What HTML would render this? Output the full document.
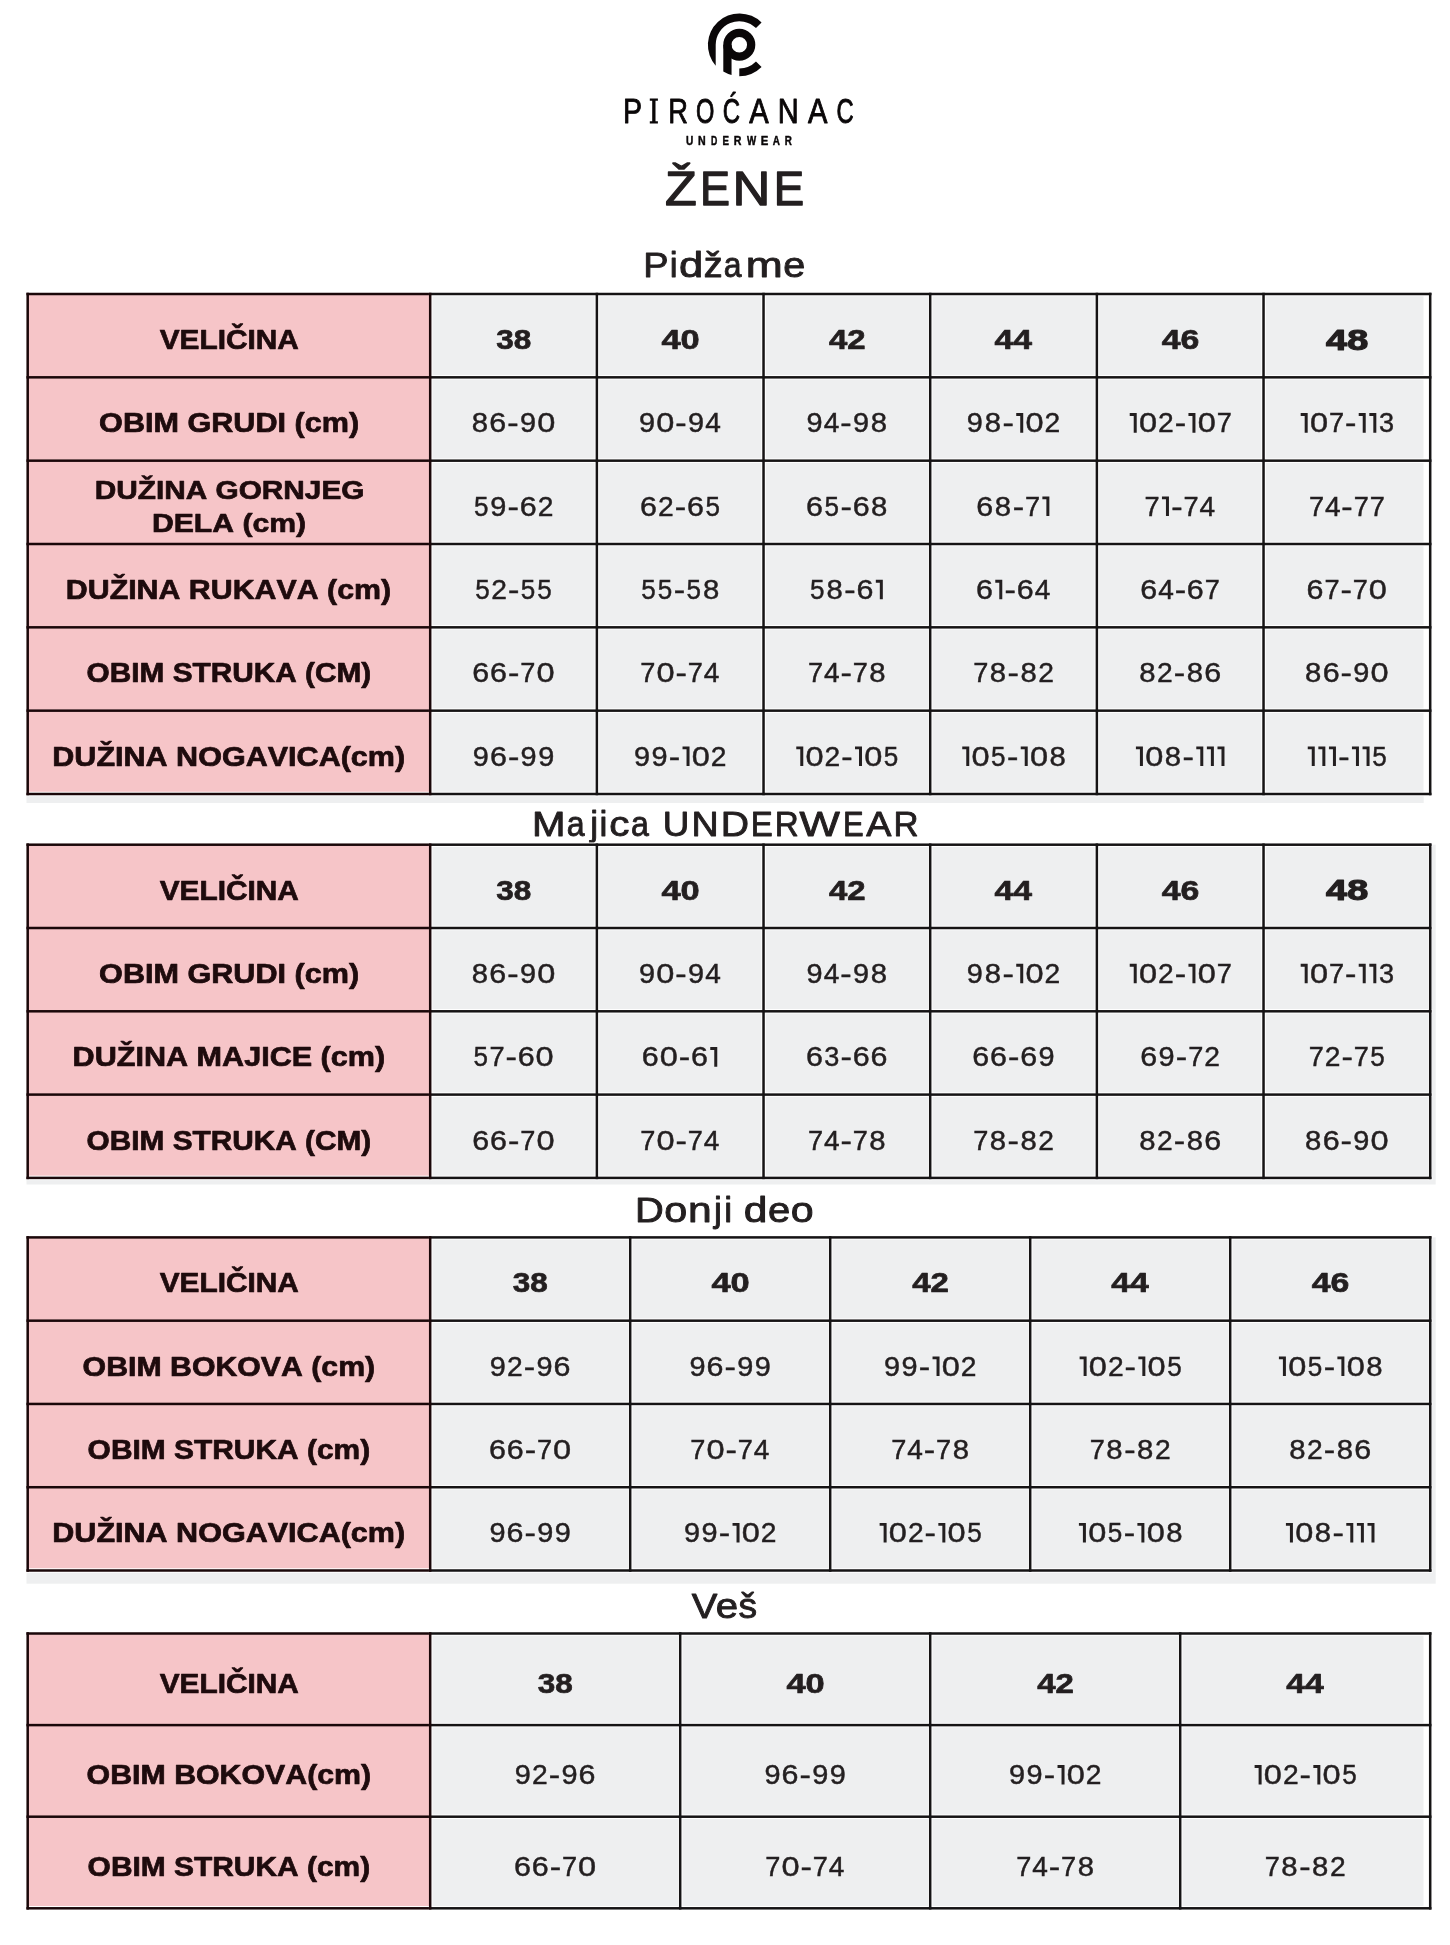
<!DOCTYPE html>
<html><head><meta charset="utf-8"><title>Piroćanac - Žene tabela veličina</title>
<style>
html,body{margin:0;padding:0;background:#fff;width:1450px;height:1945px;overflow:hidden}
svg{will-change:transform} svg text{font-family:"Liberation Sans",sans-serif;font-kerning:none}
</style></head><body>
<svg width="1450" height="1945" viewBox="0 0 1450 1945" style="display:block">
<rect width="1450" height="1945" fill="#ffffff"/>
<path d="M761.57 22.53 A31.5 31.5 0 0 0 715.7 65.66 L715.7 44.8 A23.6 23.6 0 0 1 755.99 28.11 Z M739.3 68.4 L739.3 76.3 A31.5 31.5 0 0 0 761.57 67.07 L755.99 61.49 A23.6 23.6 0 0 1 739.3 68.4 Z M723.3 44.8 L723.3 71.59 A31.2 31.2 0 0 0 731.55 75.02 L731.55 44.8 Z" fill="#0a0708"/>
<circle cx="739.3" cy="44.8" r="11.88" fill="none" stroke="#0a0708" stroke-width="8.25"/>
<text x="623.01" y="123.05" font-size="35.03" font-weight="normal" fill="#0a0708" stroke="#0a0708" stroke-width="0.9" stroke-linejoin="round" textLength="19.05" lengthAdjust="spacingAndGlyphs">P</text>
<path d="M649.8 98.5H657.9V100.8H655.5V121.2H657.9V123.5H649.8V121.2H652.2V100.8H649.8Z" fill="#0a0708"/>
<text x="668.31" y="123.05" font-size="35.03" font-weight="normal" fill="#0a0708" stroke="#0a0708" stroke-width="0.9" stroke-linejoin="round" textLength="19.7" lengthAdjust="spacingAndGlyphs">R</text>
<text x="695.93" y="123.05" font-size="35.03" font-weight="normal" fill="#0a0708" stroke="#0a0708" stroke-width="0.9" stroke-linejoin="round" textLength="18.35" lengthAdjust="spacingAndGlyphs">O</text>
<text x="722.73" y="123.05" font-size="35.03" font-weight="normal" fill="#0a0708" stroke="#0a0708" stroke-width="0.9" stroke-linejoin="round" textLength="17.33" lengthAdjust="spacingAndGlyphs">Ć</text>
<text x="749.29" y="123.05" font-size="35.03" font-weight="normal" fill="#0a0708" stroke="#0a0708" stroke-width="0.9" stroke-linejoin="round" textLength="19.41" lengthAdjust="spacingAndGlyphs">A</text>
<text x="777.87" y="123.05" font-size="35.03" font-weight="normal" fill="#0a0708" stroke="#0a0708" stroke-width="0.9" stroke-linejoin="round" textLength="20.94" lengthAdjust="spacingAndGlyphs">N</text>
<text x="807.99" y="123.05" font-size="35.03" font-weight="normal" fill="#0a0708" stroke="#0a0708" stroke-width="0.9" stroke-linejoin="round" textLength="19.41" lengthAdjust="spacingAndGlyphs">A</text>
<text x="836.44" y="123.05" font-size="35.03" font-weight="normal" fill="#0a0708" stroke="#0a0708" stroke-width="0.9" stroke-linejoin="round" textLength="17.22" lengthAdjust="spacingAndGlyphs">C</text>
<text x="685.92" y="144.68" font-size="12.14" font-weight="bold" fill="#0a0708" stroke="#0a0708" stroke-width="0.45" stroke-linejoin="round" textLength="7.27" lengthAdjust="spacingAndGlyphs">U</text>
<text x="697.91" y="144.68" font-size="12.14" font-weight="bold" fill="#0a0708" stroke="#0a0708" stroke-width="0.45" stroke-linejoin="round" textLength="7.68" lengthAdjust="spacingAndGlyphs">N</text>
<text x="711.04" y="144.68" font-size="12.14" font-weight="bold" fill="#0a0708" stroke="#0a0708" stroke-width="0.45" stroke-linejoin="round" textLength="6.3" lengthAdjust="spacingAndGlyphs">D</text>
<text x="722.58" y="144.68" font-size="12.14" font-weight="bold" fill="#0a0708" stroke="#0a0708" stroke-width="0.45" stroke-linejoin="round" textLength="6.48" lengthAdjust="spacingAndGlyphs">E</text>
<text x="733.71" y="144.68" font-size="12.14" font-weight="bold" fill="#0a0708" stroke="#0a0708" stroke-width="0.45" stroke-linejoin="round" textLength="7.68" lengthAdjust="spacingAndGlyphs">R</text>
<text x="746.92" y="144.68" font-size="12.14" font-weight="bold" fill="#0a0708" stroke="#0a0708" stroke-width="0.45" stroke-linejoin="round" textLength="9.17" lengthAdjust="spacingAndGlyphs">W</text>
<text x="760.87" y="144.68" font-size="12.14" font-weight="bold" fill="#0a0708" stroke="#0a0708" stroke-width="0.45" stroke-linejoin="round" textLength="7.55" lengthAdjust="spacingAndGlyphs">E</text>
<text x="772.68" y="144.68" font-size="12.14" font-weight="bold" fill="#0a0708" stroke="#0a0708" stroke-width="0.45" stroke-linejoin="round" textLength="7.16" lengthAdjust="spacingAndGlyphs">A</text>
<text x="784.77" y="144.68" font-size="12.14" font-weight="bold" fill="#0a0708" stroke="#0a0708" stroke-width="0.45" stroke-linejoin="round" textLength="7.11" lengthAdjust="spacingAndGlyphs">R</text>
<text x="665" y="205.05" font-size="48.55" font-weight="normal" fill="#231f20" stroke="#231f20" stroke-width="1.3" stroke-linejoin="round" textLength="31.78" lengthAdjust="spacingAndGlyphs">Ž</text>
<text x="699.96" y="205.05" font-size="48.55" font-weight="normal" fill="#231f20" stroke="#231f20" stroke-width="1.3" stroke-linejoin="round" textLength="30.03" lengthAdjust="spacingAndGlyphs">E</text>
<text x="732.45" y="205.05" font-size="48.55" font-weight="normal" fill="#231f20" stroke="#231f20" stroke-width="1.3" stroke-linejoin="round" textLength="37.88" lengthAdjust="spacingAndGlyphs">N</text>
<text x="773.81" y="205.05" font-size="48.55" font-weight="normal" fill="#231f20" stroke="#231f20" stroke-width="1.3" stroke-linejoin="round" textLength="30.4" lengthAdjust="spacingAndGlyphs">E</text>
<text x="643.24" y="276.95" font-size="35.47" font-weight="normal" fill="#231f20" stroke="#231f20" stroke-width="0.9" stroke-linejoin="round" textLength="25.31" lengthAdjust="spacingAndGlyphs">P</text>
<text x="669.72" y="276.95" font-size="35.47" font-weight="normal" fill="#231f20" stroke="#231f20" stroke-width="0.9" stroke-linejoin="round" textLength="7.88" lengthAdjust="spacingAndGlyphs">i</text>
<text x="678.92" y="276.95" font-size="35.47" font-weight="normal" fill="#231f20" stroke="#231f20" stroke-width="0.9" stroke-linejoin="round" textLength="24.24" lengthAdjust="spacingAndGlyphs">d</text>
<text x="703.82" y="276.95" font-size="35.47" font-weight="normal" fill="#231f20" stroke="#231f20" stroke-width="0.9" stroke-linejoin="round" textLength="18.92" lengthAdjust="spacingAndGlyphs">ž</text>
<text x="723.79" y="276.95" font-size="35.47" font-weight="normal" fill="#231f20" stroke="#231f20" stroke-width="0.9" stroke-linejoin="round" textLength="17.76" lengthAdjust="spacingAndGlyphs">a</text>
<text x="745.7" y="276.95" font-size="35.47" font-weight="normal" fill="#231f20" stroke="#231f20" stroke-width="0.9" stroke-linejoin="round" textLength="36.97" lengthAdjust="spacingAndGlyphs">m</text>
<text x="783.37" y="276.95" font-size="35.47" font-weight="normal" fill="#231f20" stroke="#231f20" stroke-width="0.9" stroke-linejoin="round" textLength="22.05" lengthAdjust="spacingAndGlyphs">e</text>
<text x="531.95" y="835.95" font-size="35.47" font-weight="normal" fill="#231f20" stroke="#231f20" stroke-width="0.9" stroke-linejoin="round" textLength="33.5" lengthAdjust="spacingAndGlyphs">M</text>
<text x="566.69" y="835.95" font-size="35.47" font-weight="normal" fill="#231f20" stroke="#231f20" stroke-width="0.9" stroke-linejoin="round" textLength="17.86" lengthAdjust="spacingAndGlyphs">a</text>
<text x="590.16" y="835.95" font-size="35.47" font-weight="normal" fill="#231f20" stroke="#231f20" stroke-width="0.9" stroke-linejoin="round" textLength="7.88" lengthAdjust="spacingAndGlyphs">j</text>
<text x="599.62" y="835.95" font-size="35.47" font-weight="normal" fill="#231f20" stroke="#231f20" stroke-width="0.9" stroke-linejoin="round" textLength="7.88" lengthAdjust="spacingAndGlyphs">i</text>
<text x="609.34" y="835.95" font-size="35.47" font-weight="normal" fill="#231f20" stroke="#231f20" stroke-width="0.9" stroke-linejoin="round" textLength="20.18" lengthAdjust="spacingAndGlyphs">c</text>
<text x="630.89" y="835.95" font-size="35.47" font-weight="normal" fill="#231f20" stroke="#231f20" stroke-width="0.9" stroke-linejoin="round" textLength="17.86" lengthAdjust="spacingAndGlyphs">a</text>
<text x="662.71" y="835.95" font-size="35.47" font-weight="normal" fill="#231f20" stroke="#231f20" stroke-width="0.9" stroke-linejoin="round" textLength="26.58" lengthAdjust="spacingAndGlyphs">U</text>
<text x="691.47" y="835.95" font-size="35.47" font-weight="normal" fill="#231f20" stroke="#231f20" stroke-width="0.9" stroke-linejoin="round" textLength="27.15" lengthAdjust="spacingAndGlyphs">N</text>
<text x="720.84" y="835.95" font-size="35.47" font-weight="normal" fill="#231f20" stroke="#231f20" stroke-width="0.9" stroke-linejoin="round" textLength="28.29" lengthAdjust="spacingAndGlyphs">D</text>
<text x="750.74" y="835.95" font-size="35.47" font-weight="normal" fill="#231f20" stroke="#231f20" stroke-width="0.9" stroke-linejoin="round" textLength="22.03" lengthAdjust="spacingAndGlyphs">E</text>
<text x="774.73" y="835.95" font-size="35.47" font-weight="normal" fill="#231f20" stroke="#231f20" stroke-width="0.9" stroke-linejoin="round" textLength="23.96" lengthAdjust="spacingAndGlyphs">R</text>
<text x="799.46" y="835.95" font-size="35.47" font-weight="normal" fill="#231f20" stroke="#231f20" stroke-width="0.9" stroke-linejoin="round" textLength="40.33" lengthAdjust="spacingAndGlyphs">W</text>
<text x="842.91" y="835.95" font-size="35.47" font-weight="normal" fill="#231f20" stroke="#231f20" stroke-width="0.9" stroke-linejoin="round" textLength="20.67" lengthAdjust="spacingAndGlyphs">E</text>
<text x="866.38" y="835.95" font-size="35.47" font-weight="normal" fill="#231f20" stroke="#231f20" stroke-width="0.9" stroke-linejoin="round" textLength="25.15" lengthAdjust="spacingAndGlyphs">A</text>
<text x="893.4" y="835.95" font-size="35.47" font-weight="normal" fill="#231f20" stroke="#231f20" stroke-width="0.9" stroke-linejoin="round" textLength="25.06" lengthAdjust="spacingAndGlyphs">R</text>
<text x="635.08" y="1221.85" font-size="35.47" font-weight="normal" fill="#231f20" stroke="#231f20" stroke-width="0.9" stroke-linejoin="round" textLength="28.78" lengthAdjust="spacingAndGlyphs">D</text>
<text x="664.22" y="1221.85" font-size="35.47" font-weight="normal" fill="#231f20" stroke="#231f20" stroke-width="0.9" stroke-linejoin="round" textLength="22.97" lengthAdjust="spacingAndGlyphs">o</text>
<text x="687.92" y="1221.85" font-size="35.47" font-weight="normal" fill="#231f20" stroke="#231f20" stroke-width="0.9" stroke-linejoin="round" textLength="23.7" lengthAdjust="spacingAndGlyphs">n</text>
<text x="714.06" y="1221.85" font-size="35.47" font-weight="normal" fill="#231f20" stroke="#231f20" stroke-width="0.9" stroke-linejoin="round" textLength="7.88" lengthAdjust="spacingAndGlyphs">j</text>
<text x="724.37" y="1221.85" font-size="35.47" font-weight="normal" fill="#231f20" stroke="#231f20" stroke-width="0.9" stroke-linejoin="round" textLength="7.88" lengthAdjust="spacingAndGlyphs">i</text>
<text x="743.87" y="1221.85" font-size="35.47" font-weight="normal" fill="#231f20" stroke="#231f20" stroke-width="0.9" stroke-linejoin="round" textLength="23.62" lengthAdjust="spacingAndGlyphs">d</text>
<text x="768.05" y="1221.85" font-size="35.47" font-weight="normal" fill="#231f20" stroke="#231f20" stroke-width="0.9" stroke-linejoin="round" textLength="22.28" lengthAdjust="spacingAndGlyphs">e</text>
<text x="790.82" y="1221.85" font-size="35.47" font-weight="normal" fill="#231f20" stroke="#231f20" stroke-width="0.9" stroke-linejoin="round" textLength="22.85" lengthAdjust="spacingAndGlyphs">o</text>
<text x="691.88" y="1617.85" font-size="35.47" font-weight="normal" fill="#231f20" stroke="#231f20" stroke-width="0.9" stroke-linejoin="round" textLength="25.64" lengthAdjust="spacingAndGlyphs">V</text>
<text x="715.74" y="1617.85" font-size="35.47" font-weight="normal" fill="#231f20" stroke="#231f20" stroke-width="0.9" stroke-linejoin="round" textLength="22.4" lengthAdjust="spacingAndGlyphs">e</text>
<text x="738.42" y="1617.85" font-size="35.47" font-weight="normal" fill="#231f20" stroke="#231f20" stroke-width="0.9" stroke-linejoin="round" textLength="18.58" lengthAdjust="spacingAndGlyphs">š</text>
<rect x="26.5" y="294" width="1397.2" height="509" fill="#eeeff0"/>
<rect x="1423.7" y="294" width="6.5" height="500" fill="#fff"/>
<rect x="27.7" y="294" width="402.5" height="500" fill="#f6c5c8"/>
<text x="159.65" y="349.02" font-size="27.33" font-weight="bold" fill="#1e0b0d" stroke="#1e0b0d" stroke-width="0.7" stroke-linejoin="round" textLength="139.29" lengthAdjust="spacingAndGlyphs">VELIČINA</text>
<text x="496.16" y="349.02" font-size="27.47" font-weight="bold" fill="#231f20" stroke="#231f20" stroke-width="0.7" stroke-linejoin="round" textLength="34.99" lengthAdjust="spacingAndGlyphs">38</text>
<text x="661.53" y="349.02" font-size="27.47" font-weight="bold" fill="#231f20" stroke="#231f20" stroke-width="0.7" stroke-linejoin="round" textLength="38.23" lengthAdjust="spacingAndGlyphs">40</text>
<text x="828.97" y="349.02" font-size="27.47" font-weight="bold" fill="#231f20" stroke="#231f20" stroke-width="0.7" stroke-linejoin="round" textLength="36.62" lengthAdjust="spacingAndGlyphs">42</text>
<text x="994.62" y="349.02" font-size="27.47" font-weight="bold" fill="#231f20" stroke="#231f20" stroke-width="0.7" stroke-linejoin="round" textLength="37.49" lengthAdjust="spacingAndGlyphs">44</text>
<text x="1161.79" y="349.02" font-size="27.47" font-weight="bold" fill="#231f20" stroke="#231f20" stroke-width="0.7" stroke-linejoin="round" textLength="37.53" lengthAdjust="spacingAndGlyphs">46</text>
<text x="1326.14" y="349.57" font-size="29.65" font-weight="bold" fill="#231f20" stroke="#231f20" stroke-width="1.2" stroke-linejoin="round" textLength="42.03" lengthAdjust="spacingAndGlyphs">48</text>
<text x="99.1" y="432.35" font-size="27.33" font-weight="bold" fill="#1e0b0d" stroke="#1e0b0d" stroke-width="0.7" stroke-linejoin="round" textLength="260.08" lengthAdjust="spacingAndGlyphs">OBIM GRUDI (cm)</text>
<text x="471.72" y="432.47" font-size="27.83" fill="#231f20" stroke="#231f20" stroke-width="0.45" textLength="16.3" lengthAdjust="spacingAndGlyphs">8</text>
<text x="489.34" y="432.47" font-size="27.83" fill="#231f20" stroke="#231f20" stroke-width="0.45" textLength="16.93" lengthAdjust="spacingAndGlyphs">6</text>
<text x="507.3" y="432.47" font-size="27.83" fill="#231f20" stroke="#231f20" stroke-width="0.45" textLength="11.39" lengthAdjust="spacingAndGlyphs">-</text>
<text x="519.96" y="432.47" font-size="27.83" fill="#231f20" stroke="#231f20" stroke-width="0.45" textLength="16.07" lengthAdjust="spacingAndGlyphs">9</text>
<text x="537.25" y="432.47" font-size="27.83" fill="#231f20" stroke="#231f20" stroke-width="0.45" textLength="18.09" lengthAdjust="spacingAndGlyphs">0</text>
<text x="638.97" y="432.47" font-size="27.83" fill="#231f20" stroke="#231f20" stroke-width="0.45" textLength="16.07" lengthAdjust="spacingAndGlyphs">9</text>
<text x="656.27" y="432.47" font-size="27.83" fill="#231f20" stroke="#231f20" stroke-width="0.45" textLength="18.09" lengthAdjust="spacingAndGlyphs">0</text>
<text x="675.33" y="432.47" font-size="27.83" fill="#231f20" stroke="#231f20" stroke-width="0.45" textLength="11.39" lengthAdjust="spacingAndGlyphs">-</text>
<text x="687.99" y="432.47" font-size="27.83" fill="#231f20" stroke="#231f20" stroke-width="0.45" textLength="16.07" lengthAdjust="spacingAndGlyphs">9</text>
<text x="705.28" y="432.47" font-size="27.83" fill="#231f20" stroke="#231f20" stroke-width="0.45" textLength="15.62" lengthAdjust="spacingAndGlyphs">4</text>
<text x="806.58" y="432.47" font-size="27.83" fill="#231f20" stroke="#231f20" stroke-width="0.45" textLength="16.07" lengthAdjust="spacingAndGlyphs">9</text>
<text x="823.87" y="432.47" font-size="27.83" fill="#231f20" stroke="#231f20" stroke-width="0.45" textLength="15.62" lengthAdjust="spacingAndGlyphs">4</text>
<text x="840.27" y="432.47" font-size="27.83" fill="#231f20" stroke="#231f20" stroke-width="0.45" textLength="11.39" lengthAdjust="spacingAndGlyphs">-</text>
<text x="852.93" y="432.47" font-size="27.83" fill="#231f20" stroke="#231f20" stroke-width="0.45" textLength="16.07" lengthAdjust="spacingAndGlyphs">9</text>
<text x="870.77" y="432.47" font-size="27.83" fill="#231f20" stroke="#231f20" stroke-width="0.45" textLength="16.3" lengthAdjust="spacingAndGlyphs">8</text>
<text x="966.88" y="432.47" font-size="27.83" fill="#231f20" stroke="#231f20" stroke-width="0.45" textLength="16.07" lengthAdjust="spacingAndGlyphs">9</text>
<text x="984.72" y="432.47" font-size="27.83" fill="#231f20" stroke="#231f20" stroke-width="0.45" textLength="16.3" lengthAdjust="spacingAndGlyphs">8</text>
<text x="1002.54" y="432.47" font-size="27.83" fill="#231f20" stroke="#231f20" stroke-width="0.45" textLength="11.39" lengthAdjust="spacingAndGlyphs">-</text>
<path d="M1016.23 413.1H1023.23V432.7H1020.23V416H1016.23Z" fill="#231f20"/>
<text x="1025.5" y="432.47" font-size="27.83" fill="#231f20" stroke="#231f20" stroke-width="0.45" textLength="18.09" lengthAdjust="spacingAndGlyphs">0</text>
<text x="1044.57" y="432.47" font-size="27.83" fill="#231f20" stroke="#231f20" stroke-width="0.45" textLength="15.69" lengthAdjust="spacingAndGlyphs">2</text>
<path d="M1129.72 413.1H1136.72V432.7H1133.72V416H1129.72Z" fill="#231f20"/>
<text x="1138.99" y="432.47" font-size="27.83" fill="#231f20" stroke="#231f20" stroke-width="0.45" textLength="18.09" lengthAdjust="spacingAndGlyphs">0</text>
<text x="1158.05" y="432.47" font-size="27.83" fill="#231f20" stroke="#231f20" stroke-width="0.45" textLength="15.69" lengthAdjust="spacingAndGlyphs">2</text>
<text x="1174.75" y="432.47" font-size="27.83" fill="#231f20" stroke="#231f20" stroke-width="0.45" textLength="11.39" lengthAdjust="spacingAndGlyphs">-</text>
<path d="M1188.45 413.1H1195.45V432.7H1192.45V416H1188.45Z" fill="#231f20"/>
<text x="1197.72" y="432.47" font-size="27.83" fill="#231f20" stroke="#231f20" stroke-width="0.45" textLength="18.09" lengthAdjust="spacingAndGlyphs">0</text>
<text x="1216.71" y="432.47" font-size="27.83" fill="#231f20" stroke="#231f20" stroke-width="0.45" textLength="15.11" lengthAdjust="spacingAndGlyphs">7</text>
<path d="M1300.68 413.1H1307.68V432.7H1304.68V416H1300.68Z" fill="#231f20"/>
<text x="1309.95" y="432.47" font-size="27.83" fill="#231f20" stroke="#231f20" stroke-width="0.45" textLength="18.09" lengthAdjust="spacingAndGlyphs">0</text>
<text x="1328.95" y="432.47" font-size="27.83" fill="#231f20" stroke="#231f20" stroke-width="0.45" textLength="15.11" lengthAdjust="spacingAndGlyphs">7</text>
<text x="1345.03" y="432.47" font-size="27.83" fill="#231f20" stroke="#231f20" stroke-width="0.45" textLength="11.39" lengthAdjust="spacingAndGlyphs">-</text>
<path d="M1358.72 413.1H1365.72V432.7H1362.72V416H1358.72Z" fill="#231f20"/>
<path d="M1369.32 413.1H1376.32V432.7H1373.32V416H1369.32Z" fill="#231f20"/>
<text x="1378.94" y="432.47" font-size="27.83" fill="#231f20" stroke="#231f20" stroke-width="0.45" textLength="15.07" lengthAdjust="spacingAndGlyphs">3</text>
<text x="94.66" y="498.88" font-size="26.6" font-weight="bold" fill="#1e0b0d" stroke="#1e0b0d" stroke-width="0.7" stroke-linejoin="round" textLength="269.84" lengthAdjust="spacingAndGlyphs">DUŽINA GORNJEG</text>
<text x="151.93" y="531.78" font-size="26.6" font-weight="bold" fill="#1e0b0d" stroke="#1e0b0d" stroke-width="0.7" stroke-linejoin="round" textLength="154.22" lengthAdjust="spacingAndGlyphs">DELA (cm)</text>
<text x="474.03" y="515.81" font-size="27.83" fill="#231f20" stroke="#231f20" stroke-width="0.45" textLength="14.49" lengthAdjust="spacingAndGlyphs">5</text>
<text x="490.24" y="515.81" font-size="27.83" fill="#231f20" stroke="#231f20" stroke-width="0.45" textLength="16.07" lengthAdjust="spacingAndGlyphs">9</text>
<text x="507.57" y="515.81" font-size="27.83" fill="#231f20" stroke="#231f20" stroke-width="0.45" textLength="11.39" lengthAdjust="spacingAndGlyphs">-</text>
<text x="519.77" y="515.81" font-size="27.83" fill="#231f20" stroke="#231f20" stroke-width="0.45" textLength="16.93" lengthAdjust="spacingAndGlyphs">6</text>
<text x="537.73" y="515.81" font-size="27.83" fill="#231f20" stroke="#231f20" stroke-width="0.45" textLength="15.69" lengthAdjust="spacingAndGlyphs">2</text>
<text x="640.07" y="515.81" font-size="27.83" fill="#231f20" stroke="#231f20" stroke-width="0.45" textLength="16.93" lengthAdjust="spacingAndGlyphs">6</text>
<text x="658.03" y="515.81" font-size="27.83" fill="#231f20" stroke="#231f20" stroke-width="0.45" textLength="15.69" lengthAdjust="spacingAndGlyphs">2</text>
<text x="674.73" y="515.81" font-size="27.83" fill="#231f20" stroke="#231f20" stroke-width="0.45" textLength="11.39" lengthAdjust="spacingAndGlyphs">-</text>
<text x="686.93" y="515.81" font-size="27.83" fill="#231f20" stroke="#231f20" stroke-width="0.45" textLength="16.93" lengthAdjust="spacingAndGlyphs">6</text>
<text x="705.39" y="515.81" font-size="27.83" fill="#231f20" stroke="#231f20" stroke-width="0.45" textLength="14.49" lengthAdjust="spacingAndGlyphs">5</text>
<text x="806.04" y="515.81" font-size="27.83" fill="#231f20" stroke="#231f20" stroke-width="0.45" textLength="16.93" lengthAdjust="spacingAndGlyphs">6</text>
<text x="824.5" y="515.81" font-size="27.83" fill="#231f20" stroke="#231f20" stroke-width="0.45" textLength="14.49" lengthAdjust="spacingAndGlyphs">5</text>
<text x="840.45" y="515.81" font-size="27.83" fill="#231f20" stroke="#231f20" stroke-width="0.45" textLength="11.39" lengthAdjust="spacingAndGlyphs">-</text>
<text x="852.65" y="515.81" font-size="27.83" fill="#231f20" stroke="#231f20" stroke-width="0.45" textLength="16.93" lengthAdjust="spacingAndGlyphs">6</text>
<text x="871.12" y="515.81" font-size="27.83" fill="#231f20" stroke="#231f20" stroke-width="0.45" textLength="16.3" lengthAdjust="spacingAndGlyphs">8</text>
<text x="976.38" y="515.81" font-size="27.83" fill="#231f20" stroke="#231f20" stroke-width="0.45" textLength="16.93" lengthAdjust="spacingAndGlyphs">6</text>
<text x="994.84" y="515.81" font-size="27.83" fill="#231f20" stroke="#231f20" stroke-width="0.45" textLength="16.3" lengthAdjust="spacingAndGlyphs">8</text>
<text x="1012.66" y="515.81" font-size="27.83" fill="#231f20" stroke="#231f20" stroke-width="0.45" textLength="11.39" lengthAdjust="spacingAndGlyphs">-</text>
<text x="1025" y="515.81" font-size="27.83" fill="#231f20" stroke="#231f20" stroke-width="0.45" textLength="15.11" lengthAdjust="spacingAndGlyphs">7</text>
<path d="M1042.37 496.43H1049.37V516.03H1046.37V499.33H1042.37Z" fill="#231f20"/>
<text x="1144.58" y="515.81" font-size="27.83" fill="#231f20" stroke="#231f20" stroke-width="0.45" textLength="15.11" lengthAdjust="spacingAndGlyphs">7</text>
<path d="M1161.96 496.43H1168.96V516.03H1165.96V499.33H1161.96Z" fill="#231f20"/>
<text x="1171.26" y="515.81" font-size="27.83" fill="#231f20" stroke="#231f20" stroke-width="0.45" textLength="11.39" lengthAdjust="spacingAndGlyphs">-</text>
<text x="1183.59" y="515.81" font-size="27.83" fill="#231f20" stroke="#231f20" stroke-width="0.45" textLength="15.11" lengthAdjust="spacingAndGlyphs">7</text>
<text x="1199.63" y="515.81" font-size="27.83" fill="#231f20" stroke="#231f20" stroke-width="0.45" textLength="15.62" lengthAdjust="spacingAndGlyphs">4</text>
<text x="1308.91" y="515.81" font-size="27.83" fill="#231f20" stroke="#231f20" stroke-width="0.45" textLength="15.11" lengthAdjust="spacingAndGlyphs">7</text>
<text x="1324.94" y="515.81" font-size="27.83" fill="#231f20" stroke="#231f20" stroke-width="0.45" textLength="15.62" lengthAdjust="spacingAndGlyphs">4</text>
<text x="1341.35" y="515.81" font-size="27.83" fill="#231f20" stroke="#231f20" stroke-width="0.45" textLength="11.39" lengthAdjust="spacingAndGlyphs">-</text>
<text x="1353.68" y="515.81" font-size="27.83" fill="#231f20" stroke="#231f20" stroke-width="0.45" textLength="15.11" lengthAdjust="spacingAndGlyphs">7</text>
<text x="1369.69" y="515.81" font-size="27.83" fill="#231f20" stroke="#231f20" stroke-width="0.45" textLength="15.11" lengthAdjust="spacingAndGlyphs">7</text>
<text x="65.82" y="599.02" font-size="27.33" font-weight="bold" fill="#1e0b0d" stroke="#1e0b0d" stroke-width="0.7" stroke-linejoin="round" textLength="325.34" lengthAdjust="spacingAndGlyphs">DUŽINA RUKAVA (cm)</text>
<text x="475.32" y="599.14" font-size="27.83" fill="#231f20" stroke="#231f20" stroke-width="0.45" textLength="14.49" lengthAdjust="spacingAndGlyphs">5</text>
<text x="491.26" y="599.14" font-size="27.83" fill="#231f20" stroke="#231f20" stroke-width="0.45" textLength="15.69" lengthAdjust="spacingAndGlyphs">2</text>
<text x="507.96" y="599.14" font-size="27.83" fill="#231f20" stroke="#231f20" stroke-width="0.45" textLength="11.39" lengthAdjust="spacingAndGlyphs">-</text>
<text x="520.87" y="599.14" font-size="27.83" fill="#231f20" stroke="#231f20" stroke-width="0.45" textLength="14.49" lengthAdjust="spacingAndGlyphs">5</text>
<text x="537.32" y="599.14" font-size="27.83" fill="#231f20" stroke="#231f20" stroke-width="0.45" textLength="14.49" lengthAdjust="spacingAndGlyphs">5</text>
<text x="641.29" y="599.14" font-size="27.83" fill="#231f20" stroke="#231f20" stroke-width="0.45" textLength="14.49" lengthAdjust="spacingAndGlyphs">5</text>
<text x="657.74" y="599.14" font-size="27.83" fill="#231f20" stroke="#231f20" stroke-width="0.45" textLength="14.49" lengthAdjust="spacingAndGlyphs">5</text>
<text x="673.69" y="599.14" font-size="27.83" fill="#231f20" stroke="#231f20" stroke-width="0.45" textLength="11.39" lengthAdjust="spacingAndGlyphs">-</text>
<text x="686.59" y="599.14" font-size="27.83" fill="#231f20" stroke="#231f20" stroke-width="0.45" textLength="14.49" lengthAdjust="spacingAndGlyphs">5</text>
<text x="703.05" y="599.14" font-size="27.83" fill="#231f20" stroke="#231f20" stroke-width="0.45" textLength="16.3" lengthAdjust="spacingAndGlyphs">8</text>
<text x="810.09" y="599.14" font-size="27.83" fill="#231f20" stroke="#231f20" stroke-width="0.45" textLength="14.49" lengthAdjust="spacingAndGlyphs">5</text>
<text x="826.55" y="599.14" font-size="27.83" fill="#231f20" stroke="#231f20" stroke-width="0.45" textLength="16.3" lengthAdjust="spacingAndGlyphs">8</text>
<text x="844.37" y="599.14" font-size="27.83" fill="#231f20" stroke="#231f20" stroke-width="0.45" textLength="11.39" lengthAdjust="spacingAndGlyphs">-</text>
<text x="856.57" y="599.14" font-size="27.83" fill="#231f20" stroke="#231f20" stroke-width="0.45" textLength="16.93" lengthAdjust="spacingAndGlyphs">6</text>
<path d="M875.82 579.77H882.82V599.37H879.82V582.67H875.82Z" fill="#231f20"/>
<text x="976.03" y="599.14" font-size="27.83" fill="#231f20" stroke="#231f20" stroke-width="0.45" textLength="16.93" lengthAdjust="spacingAndGlyphs">6</text>
<path d="M995.28 579.77H1002.28V599.37H999.28V582.67H995.28Z" fill="#231f20"/>
<text x="1004.58" y="599.14" font-size="27.83" fill="#231f20" stroke="#231f20" stroke-width="0.45" textLength="11.39" lengthAdjust="spacingAndGlyphs">-</text>
<text x="1016.79" y="599.14" font-size="27.83" fill="#231f20" stroke="#231f20" stroke-width="0.45" textLength="16.93" lengthAdjust="spacingAndGlyphs">6</text>
<text x="1034.7" y="599.14" font-size="27.83" fill="#231f20" stroke="#231f20" stroke-width="0.45" textLength="15.62" lengthAdjust="spacingAndGlyphs">4</text>
<text x="1140.35" y="599.14" font-size="27.83" fill="#231f20" stroke="#231f20" stroke-width="0.45" textLength="16.93" lengthAdjust="spacingAndGlyphs">6</text>
<text x="1158.26" y="599.14" font-size="27.83" fill="#231f20" stroke="#231f20" stroke-width="0.45" textLength="15.62" lengthAdjust="spacingAndGlyphs">4</text>
<text x="1174.67" y="599.14" font-size="27.83" fill="#231f20" stroke="#231f20" stroke-width="0.45" textLength="11.39" lengthAdjust="spacingAndGlyphs">-</text>
<text x="1186.87" y="599.14" font-size="27.83" fill="#231f20" stroke="#231f20" stroke-width="0.45" textLength="16.93" lengthAdjust="spacingAndGlyphs">6</text>
<text x="1204.76" y="599.14" font-size="27.83" fill="#231f20" stroke="#231f20" stroke-width="0.45" textLength="15.11" lengthAdjust="spacingAndGlyphs">7</text>
<text x="1306.51" y="599.14" font-size="27.83" fill="#231f20" stroke="#231f20" stroke-width="0.45" textLength="16.93" lengthAdjust="spacingAndGlyphs">6</text>
<text x="1324.4" y="599.14" font-size="27.83" fill="#231f20" stroke="#231f20" stroke-width="0.45" textLength="15.11" lengthAdjust="spacingAndGlyphs">7</text>
<text x="1340.48" y="599.14" font-size="27.83" fill="#231f20" stroke="#231f20" stroke-width="0.45" textLength="11.39" lengthAdjust="spacingAndGlyphs">-</text>
<text x="1352.81" y="599.14" font-size="27.83" fill="#231f20" stroke="#231f20" stroke-width="0.45" textLength="15.11" lengthAdjust="spacingAndGlyphs">7</text>
<text x="1368.85" y="599.14" font-size="27.83" fill="#231f20" stroke="#231f20" stroke-width="0.45" textLength="18.09" lengthAdjust="spacingAndGlyphs">0</text>
<text x="86.63" y="682.35" font-size="27.33" font-weight="bold" fill="#1e0b0d" stroke="#1e0b0d" stroke-width="0.7" stroke-linejoin="round" textLength="284.5" lengthAdjust="spacingAndGlyphs">OBIM STRUKA (CM)</text>
<text x="472.3" y="682.47" font-size="27.83" fill="#231f20" stroke="#231f20" stroke-width="0.45" textLength="16.93" lengthAdjust="spacingAndGlyphs">6</text>
<text x="490.06" y="682.47" font-size="27.83" fill="#231f20" stroke="#231f20" stroke-width="0.45" textLength="16.93" lengthAdjust="spacingAndGlyphs">6</text>
<text x="508.02" y="682.47" font-size="27.83" fill="#231f20" stroke="#231f20" stroke-width="0.45" textLength="11.39" lengthAdjust="spacingAndGlyphs">-</text>
<text x="520.35" y="682.47" font-size="27.83" fill="#231f20" stroke="#231f20" stroke-width="0.45" textLength="15.11" lengthAdjust="spacingAndGlyphs">7</text>
<text x="536.4" y="682.47" font-size="27.83" fill="#231f20" stroke="#231f20" stroke-width="0.45" textLength="18.09" lengthAdjust="spacingAndGlyphs">0</text>
<text x="640.37" y="682.47" font-size="27.83" fill="#231f20" stroke="#231f20" stroke-width="0.45" textLength="15.11" lengthAdjust="spacingAndGlyphs">7</text>
<text x="656.41" y="682.47" font-size="27.83" fill="#231f20" stroke="#231f20" stroke-width="0.45" textLength="18.09" lengthAdjust="spacingAndGlyphs">0</text>
<text x="675.48" y="682.47" font-size="27.83" fill="#231f20" stroke="#231f20" stroke-width="0.45" textLength="11.39" lengthAdjust="spacingAndGlyphs">-</text>
<text x="687.81" y="682.47" font-size="27.83" fill="#231f20" stroke="#231f20" stroke-width="0.45" textLength="15.11" lengthAdjust="spacingAndGlyphs">7</text>
<text x="703.84" y="682.47" font-size="27.83" fill="#231f20" stroke="#231f20" stroke-width="0.45" textLength="15.62" lengthAdjust="spacingAndGlyphs">4</text>
<text x="807.98" y="682.47" font-size="27.83" fill="#231f20" stroke="#231f20" stroke-width="0.45" textLength="15.11" lengthAdjust="spacingAndGlyphs">7</text>
<text x="824.01" y="682.47" font-size="27.83" fill="#231f20" stroke="#231f20" stroke-width="0.45" textLength="15.62" lengthAdjust="spacingAndGlyphs">4</text>
<text x="840.42" y="682.47" font-size="27.83" fill="#231f20" stroke="#231f20" stroke-width="0.45" textLength="11.39" lengthAdjust="spacingAndGlyphs">-</text>
<text x="852.75" y="682.47" font-size="27.83" fill="#231f20" stroke="#231f20" stroke-width="0.45" textLength="15.11" lengthAdjust="spacingAndGlyphs">7</text>
<text x="869.34" y="682.47" font-size="27.83" fill="#231f20" stroke="#231f20" stroke-width="0.45" textLength="16.3" lengthAdjust="spacingAndGlyphs">8</text>
<text x="973.13" y="682.47" font-size="27.83" fill="#231f20" stroke="#231f20" stroke-width="0.45" textLength="15.11" lengthAdjust="spacingAndGlyphs">7</text>
<text x="989.72" y="682.47" font-size="27.83" fill="#231f20" stroke="#231f20" stroke-width="0.45" textLength="16.3" lengthAdjust="spacingAndGlyphs">8</text>
<text x="1007.54" y="682.47" font-size="27.83" fill="#231f20" stroke="#231f20" stroke-width="0.45" textLength="11.39" lengthAdjust="spacingAndGlyphs">-</text>
<text x="1020.45" y="682.47" font-size="27.83" fill="#231f20" stroke="#231f20" stroke-width="0.45" textLength="16.3" lengthAdjust="spacingAndGlyphs">8</text>
<text x="1038.27" y="682.47" font-size="27.83" fill="#231f20" stroke="#231f20" stroke-width="0.45" textLength="15.69" lengthAdjust="spacingAndGlyphs">2</text>
<text x="1139.24" y="682.47" font-size="27.83" fill="#231f20" stroke="#231f20" stroke-width="0.45" textLength="16.3" lengthAdjust="spacingAndGlyphs">8</text>
<text x="1157.06" y="682.47" font-size="27.83" fill="#231f20" stroke="#231f20" stroke-width="0.45" textLength="15.69" lengthAdjust="spacingAndGlyphs">2</text>
<text x="1173.76" y="682.47" font-size="27.83" fill="#231f20" stroke="#231f20" stroke-width="0.45" textLength="11.39" lengthAdjust="spacingAndGlyphs">-</text>
<text x="1186.67" y="682.47" font-size="27.83" fill="#231f20" stroke="#231f20" stroke-width="0.45" textLength="16.3" lengthAdjust="spacingAndGlyphs">8</text>
<text x="1204.29" y="682.47" font-size="27.83" fill="#231f20" stroke="#231f20" stroke-width="0.45" textLength="16.93" lengthAdjust="spacingAndGlyphs">6</text>
<text x="1305.05" y="682.47" font-size="27.83" fill="#231f20" stroke="#231f20" stroke-width="0.45" textLength="16.3" lengthAdjust="spacingAndGlyphs">8</text>
<text x="1322.68" y="682.47" font-size="27.83" fill="#231f20" stroke="#231f20" stroke-width="0.45" textLength="16.93" lengthAdjust="spacingAndGlyphs">6</text>
<text x="1340.63" y="682.47" font-size="27.83" fill="#231f20" stroke="#231f20" stroke-width="0.45" textLength="11.39" lengthAdjust="spacingAndGlyphs">-</text>
<text x="1353.29" y="682.47" font-size="27.83" fill="#231f20" stroke="#231f20" stroke-width="0.45" textLength="16.07" lengthAdjust="spacingAndGlyphs">9</text>
<text x="1370.59" y="682.47" font-size="27.83" fill="#231f20" stroke="#231f20" stroke-width="0.45" textLength="18.09" lengthAdjust="spacingAndGlyphs">0</text>
<text x="52.31" y="765.68" font-size="27.33" font-weight="bold" fill="#1e0b0d" stroke="#1e0b0d" stroke-width="0.7" stroke-linejoin="round" textLength="352.86" lengthAdjust="spacingAndGlyphs">DUŽINA NOGAVICA(cm)</text>
<text x="472.83" y="765.81" font-size="27.83" fill="#231f20" stroke="#231f20" stroke-width="0.45" textLength="16.07" lengthAdjust="spacingAndGlyphs">9</text>
<text x="489.97" y="765.81" font-size="27.83" fill="#231f20" stroke="#231f20" stroke-width="0.45" textLength="16.93" lengthAdjust="spacingAndGlyphs">6</text>
<text x="507.92" y="765.81" font-size="27.83" fill="#231f20" stroke="#231f20" stroke-width="0.45" textLength="11.39" lengthAdjust="spacingAndGlyphs">-</text>
<text x="520.58" y="765.81" font-size="27.83" fill="#231f20" stroke="#231f20" stroke-width="0.45" textLength="16.07" lengthAdjust="spacingAndGlyphs">9</text>
<text x="538.17" y="765.81" font-size="27.83" fill="#231f20" stroke="#231f20" stroke-width="0.45" textLength="16.07" lengthAdjust="spacingAndGlyphs">9</text>
<text x="633.91" y="765.81" font-size="27.83" fill="#231f20" stroke="#231f20" stroke-width="0.45" textLength="16.07" lengthAdjust="spacingAndGlyphs">9</text>
<text x="651.5" y="765.81" font-size="27.83" fill="#231f20" stroke="#231f20" stroke-width="0.45" textLength="16.07" lengthAdjust="spacingAndGlyphs">9</text>
<text x="668.83" y="765.81" font-size="27.83" fill="#231f20" stroke="#231f20" stroke-width="0.45" textLength="11.39" lengthAdjust="spacingAndGlyphs">-</text>
<path d="M682.53 746.43H689.53V766.03H686.53V749.33H682.53Z" fill="#231f20"/>
<text x="691.8" y="765.81" font-size="27.83" fill="#231f20" stroke="#231f20" stroke-width="0.45" textLength="18.09" lengthAdjust="spacingAndGlyphs">0</text>
<text x="710.86" y="765.81" font-size="27.83" fill="#231f20" stroke="#231f20" stroke-width="0.45" textLength="15.69" lengthAdjust="spacingAndGlyphs">2</text>
<path d="M796.27 746.43H803.27V766.03H800.27V749.33H796.27Z" fill="#231f20"/>
<text x="805.54" y="765.81" font-size="27.83" fill="#231f20" stroke="#231f20" stroke-width="0.45" textLength="18.09" lengthAdjust="spacingAndGlyphs">0</text>
<text x="824.61" y="765.81" font-size="27.83" fill="#231f20" stroke="#231f20" stroke-width="0.45" textLength="15.69" lengthAdjust="spacingAndGlyphs">2</text>
<text x="841.31" y="765.81" font-size="27.83" fill="#231f20" stroke="#231f20" stroke-width="0.45" textLength="11.39" lengthAdjust="spacingAndGlyphs">-</text>
<path d="M855 746.43H862V766.03H859V749.33H855Z" fill="#231f20"/>
<text x="864.27" y="765.81" font-size="27.83" fill="#231f20" stroke="#231f20" stroke-width="0.45" textLength="18.09" lengthAdjust="spacingAndGlyphs">0</text>
<text x="883.84" y="765.81" font-size="27.83" fill="#231f20" stroke="#231f20" stroke-width="0.45" textLength="14.49" lengthAdjust="spacingAndGlyphs">5</text>
<path d="M962.25 746.43H969.25V766.03H966.25V749.33H962.25Z" fill="#231f20"/>
<text x="971.52" y="765.81" font-size="27.83" fill="#231f20" stroke="#231f20" stroke-width="0.45" textLength="18.09" lengthAdjust="spacingAndGlyphs">0</text>
<text x="991.08" y="765.81" font-size="27.83" fill="#231f20" stroke="#231f20" stroke-width="0.45" textLength="14.49" lengthAdjust="spacingAndGlyphs">5</text>
<text x="1007.03" y="765.81" font-size="27.83" fill="#231f20" stroke="#231f20" stroke-width="0.45" textLength="11.39" lengthAdjust="spacingAndGlyphs">-</text>
<path d="M1020.73 746.43H1027.73V766.03H1024.73V749.33H1020.73Z" fill="#231f20"/>
<text x="1030" y="765.81" font-size="27.83" fill="#231f20" stroke="#231f20" stroke-width="0.45" textLength="18.09" lengthAdjust="spacingAndGlyphs">0</text>
<text x="1049.57" y="765.81" font-size="27.83" fill="#231f20" stroke="#231f20" stroke-width="0.45" textLength="16.3" lengthAdjust="spacingAndGlyphs">8</text>
<path d="M1135.92 746.43H1142.92V766.03H1139.92V749.33H1135.92Z" fill="#231f20"/>
<text x="1145.19" y="765.81" font-size="27.83" fill="#231f20" stroke="#231f20" stroke-width="0.45" textLength="18.09" lengthAdjust="spacingAndGlyphs">0</text>
<text x="1164.77" y="765.81" font-size="27.83" fill="#231f20" stroke="#231f20" stroke-width="0.45" textLength="16.3" lengthAdjust="spacingAndGlyphs">8</text>
<text x="1182.59" y="765.81" font-size="27.83" fill="#231f20" stroke="#231f20" stroke-width="0.45" textLength="11.39" lengthAdjust="spacingAndGlyphs">-</text>
<path d="M1196.28 746.43H1203.28V766.03H1200.28V749.33H1196.28Z" fill="#231f20"/>
<path d="M1206.88 746.43H1213.88V766.03H1210.88V749.33H1206.88Z" fill="#231f20"/>
<path d="M1217.48 746.43H1224.48V766.03H1221.48V749.33H1217.48Z" fill="#231f20"/>
<path d="M1307.75 746.43H1314.75V766.03H1311.75V749.33H1307.75Z" fill="#231f20"/>
<path d="M1318.35 746.43H1325.35V766.03H1322.35V749.33H1318.35Z" fill="#231f20"/>
<path d="M1328.95 746.43H1335.95V766.03H1332.95V749.33H1328.95Z" fill="#231f20"/>
<text x="1338.26" y="765.81" font-size="27.83" fill="#231f20" stroke="#231f20" stroke-width="0.45" textLength="11.39" lengthAdjust="spacingAndGlyphs">-</text>
<path d="M1351.95 746.43H1358.95V766.03H1355.95V749.33H1351.95Z" fill="#231f20"/>
<path d="M1362.55 746.43H1369.55V766.03H1366.55V749.33H1362.55Z" fill="#231f20"/>
<text x="1372.36" y="765.81" font-size="27.83" fill="#231f20" stroke="#231f20" stroke-width="0.45" textLength="14.49" lengthAdjust="spacingAndGlyphs">5</text>
<rect x="430.2" y="291.75" width="1002.25" height="4.5" fill="#fff"/>
<rect x="430.2" y="375.08" width="1002.25" height="4.5" fill="#fff"/>
<rect x="430.2" y="458.42" width="1002.25" height="4.5" fill="#fff"/>
<rect x="430.2" y="541.75" width="1002.25" height="4.5" fill="#fff"/>
<rect x="430.2" y="625.08" width="1002.25" height="4.5" fill="#fff"/>
<rect x="430.2" y="708.41" width="1002.25" height="4.5" fill="#fff"/>
<rect x="26.45" y="791.75" width="1406" height="4.5" fill="#fff"/>
<rect x="430.2" y="291.75" width="2.25" height="504.5" fill="#fff"/>
<rect x="594.62" y="291.75" width="4.5" height="504.5" fill="#fff"/>
<rect x="761.28" y="291.75" width="4.5" height="504.5" fill="#fff"/>
<rect x="927.95" y="291.75" width="4.5" height="504.5" fill="#fff"/>
<rect x="1094.62" y="291.75" width="4.5" height="504.5" fill="#fff"/>
<rect x="1261.28" y="291.75" width="4.5" height="504.5" fill="#fff"/>
<rect x="1427.95" y="291.75" width="2.25" height="504.5" fill="#fff"/>
<rect x="26.45" y="292.75" width="402.5" height="2.5" fill="#1a0709"/>
<rect x="428.95" y="292.75" width="1002.5" height="2.5" fill="#151314"/>
<rect x="26.45" y="376.08" width="402.5" height="2.5" fill="#1a0709"/>
<rect x="428.95" y="376.08" width="1002.5" height="2.5" fill="#151314"/>
<rect x="26.45" y="459.42" width="402.5" height="2.5" fill="#1a0709"/>
<rect x="428.95" y="459.42" width="1002.5" height="2.5" fill="#151314"/>
<rect x="26.45" y="542.75" width="402.5" height="2.5" fill="#1a0709"/>
<rect x="428.95" y="542.75" width="1002.5" height="2.5" fill="#151314"/>
<rect x="26.45" y="626.08" width="402.5" height="2.5" fill="#1a0709"/>
<rect x="428.95" y="626.08" width="1002.5" height="2.5" fill="#151314"/>
<rect x="26.45" y="709.41" width="402.5" height="2.5" fill="#1a0709"/>
<rect x="428.95" y="709.41" width="1002.5" height="2.5" fill="#151314"/>
<rect x="26.45" y="792.75" width="402.5" height="2.5" fill="#1a0709"/>
<rect x="428.95" y="792.75" width="1002.5" height="2.5" fill="#151314"/>
<rect x="26.45" y="292.75" width="2.5" height="502.5" fill="#1a0709"/>
<rect x="428.95" y="292.75" width="2.5" height="502.5" fill="#1a0709"/>
<rect x="595.62" y="292.75" width="2.5" height="502.5" fill="#151314"/>
<rect x="762.28" y="292.75" width="2.5" height="502.5" fill="#151314"/>
<rect x="928.95" y="292.75" width="2.5" height="502.5" fill="#151314"/>
<rect x="1095.62" y="292.75" width="2.5" height="502.5" fill="#151314"/>
<rect x="1262.28" y="292.75" width="2.5" height="502.5" fill="#151314"/>
<rect x="1428.95" y="292.75" width="2.5" height="502.5" fill="#151314"/>
<rect x="26.5" y="844.7" width="1409.2" height="339.8" fill="#eeeff0"/>
<rect x="27.7" y="844.7" width="402.5" height="333.2" fill="#f6c5c8"/>
<text x="159.65" y="899.7" font-size="27.33" font-weight="bold" fill="#1e0b0d" stroke="#1e0b0d" stroke-width="0.7" stroke-linejoin="round" textLength="139.29" lengthAdjust="spacingAndGlyphs">VELIČINA</text>
<text x="496.16" y="899.7" font-size="27.47" font-weight="bold" fill="#231f20" stroke="#231f20" stroke-width="0.7" stroke-linejoin="round" textLength="34.99" lengthAdjust="spacingAndGlyphs">38</text>
<text x="661.53" y="899.7" font-size="27.47" font-weight="bold" fill="#231f20" stroke="#231f20" stroke-width="0.7" stroke-linejoin="round" textLength="38.23" lengthAdjust="spacingAndGlyphs">40</text>
<text x="828.97" y="899.7" font-size="27.47" font-weight="bold" fill="#231f20" stroke="#231f20" stroke-width="0.7" stroke-linejoin="round" textLength="36.62" lengthAdjust="spacingAndGlyphs">42</text>
<text x="994.62" y="899.7" font-size="27.47" font-weight="bold" fill="#231f20" stroke="#231f20" stroke-width="0.7" stroke-linejoin="round" textLength="37.49" lengthAdjust="spacingAndGlyphs">44</text>
<text x="1161.79" y="899.7" font-size="27.47" font-weight="bold" fill="#231f20" stroke="#231f20" stroke-width="0.7" stroke-linejoin="round" textLength="37.53" lengthAdjust="spacingAndGlyphs">46</text>
<text x="1326.14" y="900.25" font-size="29.65" font-weight="bold" fill="#231f20" stroke="#231f20" stroke-width="1.2" stroke-linejoin="round" textLength="42.03" lengthAdjust="spacingAndGlyphs">48</text>
<text x="99.1" y="983" font-size="27.33" font-weight="bold" fill="#1e0b0d" stroke="#1e0b0d" stroke-width="0.7" stroke-linejoin="round" textLength="260.08" lengthAdjust="spacingAndGlyphs">OBIM GRUDI (cm)</text>
<text x="471.72" y="983.12" font-size="27.83" fill="#231f20" stroke="#231f20" stroke-width="0.45" textLength="16.3" lengthAdjust="spacingAndGlyphs">8</text>
<text x="489.34" y="983.12" font-size="27.83" fill="#231f20" stroke="#231f20" stroke-width="0.45" textLength="16.93" lengthAdjust="spacingAndGlyphs">6</text>
<text x="507.3" y="983.12" font-size="27.83" fill="#231f20" stroke="#231f20" stroke-width="0.45" textLength="11.39" lengthAdjust="spacingAndGlyphs">-</text>
<text x="519.96" y="983.12" font-size="27.83" fill="#231f20" stroke="#231f20" stroke-width="0.45" textLength="16.07" lengthAdjust="spacingAndGlyphs">9</text>
<text x="537.25" y="983.12" font-size="27.83" fill="#231f20" stroke="#231f20" stroke-width="0.45" textLength="18.09" lengthAdjust="spacingAndGlyphs">0</text>
<text x="638.97" y="983.12" font-size="27.83" fill="#231f20" stroke="#231f20" stroke-width="0.45" textLength="16.07" lengthAdjust="spacingAndGlyphs">9</text>
<text x="656.27" y="983.12" font-size="27.83" fill="#231f20" stroke="#231f20" stroke-width="0.45" textLength="18.09" lengthAdjust="spacingAndGlyphs">0</text>
<text x="675.33" y="983.12" font-size="27.83" fill="#231f20" stroke="#231f20" stroke-width="0.45" textLength="11.39" lengthAdjust="spacingAndGlyphs">-</text>
<text x="687.99" y="983.12" font-size="27.83" fill="#231f20" stroke="#231f20" stroke-width="0.45" textLength="16.07" lengthAdjust="spacingAndGlyphs">9</text>
<text x="705.28" y="983.12" font-size="27.83" fill="#231f20" stroke="#231f20" stroke-width="0.45" textLength="15.62" lengthAdjust="spacingAndGlyphs">4</text>
<text x="806.58" y="983.12" font-size="27.83" fill="#231f20" stroke="#231f20" stroke-width="0.45" textLength="16.07" lengthAdjust="spacingAndGlyphs">9</text>
<text x="823.87" y="983.12" font-size="27.83" fill="#231f20" stroke="#231f20" stroke-width="0.45" textLength="15.62" lengthAdjust="spacingAndGlyphs">4</text>
<text x="840.27" y="983.12" font-size="27.83" fill="#231f20" stroke="#231f20" stroke-width="0.45" textLength="11.39" lengthAdjust="spacingAndGlyphs">-</text>
<text x="852.93" y="983.12" font-size="27.83" fill="#231f20" stroke="#231f20" stroke-width="0.45" textLength="16.07" lengthAdjust="spacingAndGlyphs">9</text>
<text x="870.77" y="983.12" font-size="27.83" fill="#231f20" stroke="#231f20" stroke-width="0.45" textLength="16.3" lengthAdjust="spacingAndGlyphs">8</text>
<text x="966.88" y="983.12" font-size="27.83" fill="#231f20" stroke="#231f20" stroke-width="0.45" textLength="16.07" lengthAdjust="spacingAndGlyphs">9</text>
<text x="984.72" y="983.12" font-size="27.83" fill="#231f20" stroke="#231f20" stroke-width="0.45" textLength="16.3" lengthAdjust="spacingAndGlyphs">8</text>
<text x="1002.54" y="983.12" font-size="27.83" fill="#231f20" stroke="#231f20" stroke-width="0.45" textLength="11.39" lengthAdjust="spacingAndGlyphs">-</text>
<path d="M1016.23 963.75H1023.23V983.35H1020.23V966.65H1016.23Z" fill="#231f20"/>
<text x="1025.5" y="983.12" font-size="27.83" fill="#231f20" stroke="#231f20" stroke-width="0.45" textLength="18.09" lengthAdjust="spacingAndGlyphs">0</text>
<text x="1044.57" y="983.12" font-size="27.83" fill="#231f20" stroke="#231f20" stroke-width="0.45" textLength="15.69" lengthAdjust="spacingAndGlyphs">2</text>
<path d="M1129.72 963.75H1136.72V983.35H1133.72V966.65H1129.72Z" fill="#231f20"/>
<text x="1138.99" y="983.12" font-size="27.83" fill="#231f20" stroke="#231f20" stroke-width="0.45" textLength="18.09" lengthAdjust="spacingAndGlyphs">0</text>
<text x="1158.05" y="983.12" font-size="27.83" fill="#231f20" stroke="#231f20" stroke-width="0.45" textLength="15.69" lengthAdjust="spacingAndGlyphs">2</text>
<text x="1174.75" y="983.12" font-size="27.83" fill="#231f20" stroke="#231f20" stroke-width="0.45" textLength="11.39" lengthAdjust="spacingAndGlyphs">-</text>
<path d="M1188.45 963.75H1195.45V983.35H1192.45V966.65H1188.45Z" fill="#231f20"/>
<text x="1197.72" y="983.12" font-size="27.83" fill="#231f20" stroke="#231f20" stroke-width="0.45" textLength="18.09" lengthAdjust="spacingAndGlyphs">0</text>
<text x="1216.71" y="983.12" font-size="27.83" fill="#231f20" stroke="#231f20" stroke-width="0.45" textLength="15.11" lengthAdjust="spacingAndGlyphs">7</text>
<path d="M1300.68 963.75H1307.68V983.35H1304.68V966.65H1300.68Z" fill="#231f20"/>
<text x="1309.95" y="983.12" font-size="27.83" fill="#231f20" stroke="#231f20" stroke-width="0.45" textLength="18.09" lengthAdjust="spacingAndGlyphs">0</text>
<text x="1328.95" y="983.12" font-size="27.83" fill="#231f20" stroke="#231f20" stroke-width="0.45" textLength="15.11" lengthAdjust="spacingAndGlyphs">7</text>
<text x="1345.03" y="983.12" font-size="27.83" fill="#231f20" stroke="#231f20" stroke-width="0.45" textLength="11.39" lengthAdjust="spacingAndGlyphs">-</text>
<path d="M1358.72 963.75H1365.72V983.35H1362.72V966.65H1358.72Z" fill="#231f20"/>
<path d="M1369.32 963.75H1376.32V983.35H1373.32V966.65H1369.32Z" fill="#231f20"/>
<text x="1378.94" y="983.12" font-size="27.83" fill="#231f20" stroke="#231f20" stroke-width="0.45" textLength="15.07" lengthAdjust="spacingAndGlyphs">3</text>
<text x="72.6" y="1066.3" font-size="27.33" font-weight="bold" fill="#1e0b0d" stroke="#1e0b0d" stroke-width="0.7" stroke-linejoin="round" textLength="312.57" lengthAdjust="spacingAndGlyphs">DUŽINA MAJICE (cm)</text>
<text x="473.56" y="1066.43" font-size="27.83" fill="#231f20" stroke="#231f20" stroke-width="0.45" textLength="14.49" lengthAdjust="spacingAndGlyphs">5</text>
<text x="489.44" y="1066.43" font-size="27.83" fill="#231f20" stroke="#231f20" stroke-width="0.45" textLength="15.11" lengthAdjust="spacingAndGlyphs">7</text>
<text x="505.52" y="1066.43" font-size="27.83" fill="#231f20" stroke="#231f20" stroke-width="0.45" textLength="11.39" lengthAdjust="spacingAndGlyphs">-</text>
<text x="517.72" y="1066.43" font-size="27.83" fill="#231f20" stroke="#231f20" stroke-width="0.45" textLength="16.93" lengthAdjust="spacingAndGlyphs">6</text>
<text x="535.64" y="1066.43" font-size="27.83" fill="#231f20" stroke="#231f20" stroke-width="0.45" textLength="18.09" lengthAdjust="spacingAndGlyphs">0</text>
<text x="641.82" y="1066.43" font-size="27.83" fill="#231f20" stroke="#231f20" stroke-width="0.45" textLength="16.93" lengthAdjust="spacingAndGlyphs">6</text>
<text x="659.74" y="1066.43" font-size="27.83" fill="#231f20" stroke="#231f20" stroke-width="0.45" textLength="18.09" lengthAdjust="spacingAndGlyphs">0</text>
<text x="678.81" y="1066.43" font-size="27.83" fill="#231f20" stroke="#231f20" stroke-width="0.45" textLength="11.39" lengthAdjust="spacingAndGlyphs">-</text>
<text x="691.01" y="1066.43" font-size="27.83" fill="#231f20" stroke="#231f20" stroke-width="0.45" textLength="16.93" lengthAdjust="spacingAndGlyphs">6</text>
<path d="M710.26 1047.05H717.26V1066.65H714.26V1049.95H710.26Z" fill="#231f20"/>
<text x="806.06" y="1066.43" font-size="27.83" fill="#231f20" stroke="#231f20" stroke-width="0.45" textLength="16.93" lengthAdjust="spacingAndGlyphs">6</text>
<text x="824.33" y="1066.43" font-size="27.83" fill="#231f20" stroke="#231f20" stroke-width="0.45" textLength="15.07" lengthAdjust="spacingAndGlyphs">3</text>
<text x="840.57" y="1066.43" font-size="27.83" fill="#231f20" stroke="#231f20" stroke-width="0.45" textLength="11.39" lengthAdjust="spacingAndGlyphs">-</text>
<text x="852.77" y="1066.43" font-size="27.83" fill="#231f20" stroke="#231f20" stroke-width="0.45" textLength="16.93" lengthAdjust="spacingAndGlyphs">6</text>
<text x="870.53" y="1066.43" font-size="27.83" fill="#231f20" stroke="#231f20" stroke-width="0.45" textLength="16.93" lengthAdjust="spacingAndGlyphs">6</text>
<text x="972.34" y="1066.43" font-size="27.83" fill="#231f20" stroke="#231f20" stroke-width="0.45" textLength="16.93" lengthAdjust="spacingAndGlyphs">6</text>
<text x="990.1" y="1066.43" font-size="27.83" fill="#231f20" stroke="#231f20" stroke-width="0.45" textLength="16.93" lengthAdjust="spacingAndGlyphs">6</text>
<text x="1008.06" y="1066.43" font-size="27.83" fill="#231f20" stroke="#231f20" stroke-width="0.45" textLength="11.39" lengthAdjust="spacingAndGlyphs">-</text>
<text x="1020.26" y="1066.43" font-size="27.83" fill="#231f20" stroke="#231f20" stroke-width="0.45" textLength="16.93" lengthAdjust="spacingAndGlyphs">6</text>
<text x="1038.48" y="1066.43" font-size="27.83" fill="#231f20" stroke="#231f20" stroke-width="0.45" textLength="16.07" lengthAdjust="spacingAndGlyphs">9</text>
<text x="1140.31" y="1066.43" font-size="27.83" fill="#231f20" stroke="#231f20" stroke-width="0.45" textLength="16.93" lengthAdjust="spacingAndGlyphs">6</text>
<text x="1158.53" y="1066.43" font-size="27.83" fill="#231f20" stroke="#231f20" stroke-width="0.45" textLength="16.07" lengthAdjust="spacingAndGlyphs">9</text>
<text x="1175.86" y="1066.43" font-size="27.83" fill="#231f20" stroke="#231f20" stroke-width="0.45" textLength="11.39" lengthAdjust="spacingAndGlyphs">-</text>
<text x="1188.19" y="1066.43" font-size="27.83" fill="#231f20" stroke="#231f20" stroke-width="0.45" textLength="15.11" lengthAdjust="spacingAndGlyphs">7</text>
<text x="1204.27" y="1066.43" font-size="27.83" fill="#231f20" stroke="#231f20" stroke-width="0.45" textLength="15.69" lengthAdjust="spacingAndGlyphs">2</text>
<text x="1308.63" y="1066.43" font-size="27.83" fill="#231f20" stroke="#231f20" stroke-width="0.45" textLength="15.11" lengthAdjust="spacingAndGlyphs">7</text>
<text x="1324.71" y="1066.43" font-size="27.83" fill="#231f20" stroke="#231f20" stroke-width="0.45" textLength="15.69" lengthAdjust="spacingAndGlyphs">2</text>
<text x="1341.41" y="1066.43" font-size="27.83" fill="#231f20" stroke="#231f20" stroke-width="0.45" textLength="11.39" lengthAdjust="spacingAndGlyphs">-</text>
<text x="1353.74" y="1066.43" font-size="27.83" fill="#231f20" stroke="#231f20" stroke-width="0.45" textLength="15.11" lengthAdjust="spacingAndGlyphs">7</text>
<text x="1370.32" y="1066.43" font-size="27.83" fill="#231f20" stroke="#231f20" stroke-width="0.45" textLength="14.49" lengthAdjust="spacingAndGlyphs">5</text>
<text x="86.63" y="1149.6" font-size="27.33" font-weight="bold" fill="#1e0b0d" stroke="#1e0b0d" stroke-width="0.7" stroke-linejoin="round" textLength="284.5" lengthAdjust="spacingAndGlyphs">OBIM STRUKA (CM)</text>
<text x="472.3" y="1149.73" font-size="27.83" fill="#231f20" stroke="#231f20" stroke-width="0.45" textLength="16.93" lengthAdjust="spacingAndGlyphs">6</text>
<text x="490.06" y="1149.73" font-size="27.83" fill="#231f20" stroke="#231f20" stroke-width="0.45" textLength="16.93" lengthAdjust="spacingAndGlyphs">6</text>
<text x="508.02" y="1149.73" font-size="27.83" fill="#231f20" stroke="#231f20" stroke-width="0.45" textLength="11.39" lengthAdjust="spacingAndGlyphs">-</text>
<text x="520.35" y="1149.73" font-size="27.83" fill="#231f20" stroke="#231f20" stroke-width="0.45" textLength="15.11" lengthAdjust="spacingAndGlyphs">7</text>
<text x="536.4" y="1149.73" font-size="27.83" fill="#231f20" stroke="#231f20" stroke-width="0.45" textLength="18.09" lengthAdjust="spacingAndGlyphs">0</text>
<text x="640.37" y="1149.73" font-size="27.83" fill="#231f20" stroke="#231f20" stroke-width="0.45" textLength="15.11" lengthAdjust="spacingAndGlyphs">7</text>
<text x="656.41" y="1149.73" font-size="27.83" fill="#231f20" stroke="#231f20" stroke-width="0.45" textLength="18.09" lengthAdjust="spacingAndGlyphs">0</text>
<text x="675.48" y="1149.73" font-size="27.83" fill="#231f20" stroke="#231f20" stroke-width="0.45" textLength="11.39" lengthAdjust="spacingAndGlyphs">-</text>
<text x="687.81" y="1149.73" font-size="27.83" fill="#231f20" stroke="#231f20" stroke-width="0.45" textLength="15.11" lengthAdjust="spacingAndGlyphs">7</text>
<text x="703.84" y="1149.73" font-size="27.83" fill="#231f20" stroke="#231f20" stroke-width="0.45" textLength="15.62" lengthAdjust="spacingAndGlyphs">4</text>
<text x="807.98" y="1149.73" font-size="27.83" fill="#231f20" stroke="#231f20" stroke-width="0.45" textLength="15.11" lengthAdjust="spacingAndGlyphs">7</text>
<text x="824.01" y="1149.73" font-size="27.83" fill="#231f20" stroke="#231f20" stroke-width="0.45" textLength="15.62" lengthAdjust="spacingAndGlyphs">4</text>
<text x="840.42" y="1149.73" font-size="27.83" fill="#231f20" stroke="#231f20" stroke-width="0.45" textLength="11.39" lengthAdjust="spacingAndGlyphs">-</text>
<text x="852.75" y="1149.73" font-size="27.83" fill="#231f20" stroke="#231f20" stroke-width="0.45" textLength="15.11" lengthAdjust="spacingAndGlyphs">7</text>
<text x="869.34" y="1149.73" font-size="27.83" fill="#231f20" stroke="#231f20" stroke-width="0.45" textLength="16.3" lengthAdjust="spacingAndGlyphs">8</text>
<text x="973.13" y="1149.73" font-size="27.83" fill="#231f20" stroke="#231f20" stroke-width="0.45" textLength="15.11" lengthAdjust="spacingAndGlyphs">7</text>
<text x="989.72" y="1149.73" font-size="27.83" fill="#231f20" stroke="#231f20" stroke-width="0.45" textLength="16.3" lengthAdjust="spacingAndGlyphs">8</text>
<text x="1007.54" y="1149.73" font-size="27.83" fill="#231f20" stroke="#231f20" stroke-width="0.45" textLength="11.39" lengthAdjust="spacingAndGlyphs">-</text>
<text x="1020.45" y="1149.73" font-size="27.83" fill="#231f20" stroke="#231f20" stroke-width="0.45" textLength="16.3" lengthAdjust="spacingAndGlyphs">8</text>
<text x="1038.27" y="1149.73" font-size="27.83" fill="#231f20" stroke="#231f20" stroke-width="0.45" textLength="15.69" lengthAdjust="spacingAndGlyphs">2</text>
<text x="1139.24" y="1149.73" font-size="27.83" fill="#231f20" stroke="#231f20" stroke-width="0.45" textLength="16.3" lengthAdjust="spacingAndGlyphs">8</text>
<text x="1157.06" y="1149.73" font-size="27.83" fill="#231f20" stroke="#231f20" stroke-width="0.45" textLength="15.69" lengthAdjust="spacingAndGlyphs">2</text>
<text x="1173.76" y="1149.73" font-size="27.83" fill="#231f20" stroke="#231f20" stroke-width="0.45" textLength="11.39" lengthAdjust="spacingAndGlyphs">-</text>
<text x="1186.67" y="1149.73" font-size="27.83" fill="#231f20" stroke="#231f20" stroke-width="0.45" textLength="16.3" lengthAdjust="spacingAndGlyphs">8</text>
<text x="1204.29" y="1149.73" font-size="27.83" fill="#231f20" stroke="#231f20" stroke-width="0.45" textLength="16.93" lengthAdjust="spacingAndGlyphs">6</text>
<text x="1305.05" y="1149.73" font-size="27.83" fill="#231f20" stroke="#231f20" stroke-width="0.45" textLength="16.3" lengthAdjust="spacingAndGlyphs">8</text>
<text x="1322.68" y="1149.73" font-size="27.83" fill="#231f20" stroke="#231f20" stroke-width="0.45" textLength="16.93" lengthAdjust="spacingAndGlyphs">6</text>
<text x="1340.63" y="1149.73" font-size="27.83" fill="#231f20" stroke="#231f20" stroke-width="0.45" textLength="11.39" lengthAdjust="spacingAndGlyphs">-</text>
<text x="1353.29" y="1149.73" font-size="27.83" fill="#231f20" stroke="#231f20" stroke-width="0.45" textLength="16.07" lengthAdjust="spacingAndGlyphs">9</text>
<text x="1370.59" y="1149.73" font-size="27.83" fill="#231f20" stroke="#231f20" stroke-width="0.45" textLength="18.09" lengthAdjust="spacingAndGlyphs">0</text>
<rect x="430.2" y="842.45" width="1002.25" height="4.5" fill="#fff"/>
<rect x="430.2" y="925.75" width="1002.25" height="4.5" fill="#fff"/>
<rect x="430.2" y="1009.05" width="1002.25" height="4.5" fill="#fff"/>
<rect x="430.2" y="1092.35" width="1002.25" height="4.5" fill="#fff"/>
<rect x="26.45" y="1175.65" width="1406" height="4.5" fill="#fff"/>
<rect x="430.2" y="842.45" width="2.25" height="337.7" fill="#fff"/>
<rect x="594.62" y="842.45" width="4.5" height="337.7" fill="#fff"/>
<rect x="761.28" y="842.45" width="4.5" height="337.7" fill="#fff"/>
<rect x="927.95" y="842.45" width="4.5" height="337.7" fill="#fff"/>
<rect x="1094.62" y="842.45" width="4.5" height="337.7" fill="#fff"/>
<rect x="1261.28" y="842.45" width="4.5" height="337.7" fill="#fff"/>
<rect x="1427.95" y="842.45" width="2.25" height="337.7" fill="#fff"/>
<rect x="26.45" y="843.45" width="402.5" height="2.5" fill="#1a0709"/>
<rect x="428.95" y="843.45" width="1002.5" height="2.5" fill="#151314"/>
<rect x="26.45" y="926.75" width="402.5" height="2.5" fill="#1a0709"/>
<rect x="428.95" y="926.75" width="1002.5" height="2.5" fill="#151314"/>
<rect x="26.45" y="1010.05" width="402.5" height="2.5" fill="#1a0709"/>
<rect x="428.95" y="1010.05" width="1002.5" height="2.5" fill="#151314"/>
<rect x="26.45" y="1093.35" width="402.5" height="2.5" fill="#1a0709"/>
<rect x="428.95" y="1093.35" width="1002.5" height="2.5" fill="#151314"/>
<rect x="26.45" y="1176.65" width="402.5" height="2.5" fill="#1a0709"/>
<rect x="428.95" y="1176.65" width="1002.5" height="2.5" fill="#151314"/>
<rect x="26.45" y="843.45" width="2.5" height="335.7" fill="#1a0709"/>
<rect x="428.95" y="843.45" width="2.5" height="335.7" fill="#1a0709"/>
<rect x="595.62" y="843.45" width="2.5" height="335.7" fill="#151314"/>
<rect x="762.28" y="843.45" width="2.5" height="335.7" fill="#151314"/>
<rect x="928.95" y="843.45" width="2.5" height="335.7" fill="#151314"/>
<rect x="1095.62" y="843.45" width="2.5" height="335.7" fill="#151314"/>
<rect x="1262.28" y="843.45" width="2.5" height="335.7" fill="#151314"/>
<rect x="1428.95" y="843.45" width="2.5" height="335.7" fill="#151314"/>
<rect x="26.5" y="1237.4" width="1409.2" height="346.3" fill="#eeeff0"/>
<rect x="27.7" y="1237.4" width="402.5" height="333.1" fill="#f6c5c8"/>
<text x="159.65" y="1292.39" font-size="27.33" font-weight="bold" fill="#1e0b0d" stroke="#1e0b0d" stroke-width="0.7" stroke-linejoin="round" textLength="139.29" lengthAdjust="spacingAndGlyphs">VELIČINA</text>
<text x="512.83" y="1292.39" font-size="27.47" font-weight="bold" fill="#231f20" stroke="#231f20" stroke-width="0.7" stroke-linejoin="round" textLength="34.99" lengthAdjust="spacingAndGlyphs">38</text>
<text x="711.53" y="1292.39" font-size="27.47" font-weight="bold" fill="#231f20" stroke="#231f20" stroke-width="0.7" stroke-linejoin="round" textLength="38.23" lengthAdjust="spacingAndGlyphs">40</text>
<text x="912.3" y="1292.39" font-size="27.47" font-weight="bold" fill="#231f20" stroke="#231f20" stroke-width="0.7" stroke-linejoin="round" textLength="36.62" lengthAdjust="spacingAndGlyphs">42</text>
<text x="1111.29" y="1292.39" font-size="27.47" font-weight="bold" fill="#231f20" stroke="#231f20" stroke-width="0.7" stroke-linejoin="round" textLength="37.49" lengthAdjust="spacingAndGlyphs">44</text>
<text x="1311.79" y="1292.39" font-size="27.47" font-weight="bold" fill="#231f20" stroke="#231f20" stroke-width="0.7" stroke-linejoin="round" textLength="37.53" lengthAdjust="spacingAndGlyphs">46</text>
<text x="82.61" y="1375.66" font-size="27.33" font-weight="bold" fill="#1e0b0d" stroke="#1e0b0d" stroke-width="0.7" stroke-linejoin="round" textLength="292.55" lengthAdjust="spacingAndGlyphs">OBIM BOKOVA (cm)</text>
<text x="489.81" y="1375.79" font-size="27.83" fill="#231f20" stroke="#231f20" stroke-width="0.45" textLength="16.07" lengthAdjust="spacingAndGlyphs">9</text>
<text x="507.14" y="1375.79" font-size="27.83" fill="#231f20" stroke="#231f20" stroke-width="0.45" textLength="15.69" lengthAdjust="spacingAndGlyphs">2</text>
<text x="523.84" y="1375.79" font-size="27.83" fill="#231f20" stroke="#231f20" stroke-width="0.45" textLength="11.39" lengthAdjust="spacingAndGlyphs">-</text>
<text x="536.5" y="1375.79" font-size="27.83" fill="#231f20" stroke="#231f20" stroke-width="0.45" textLength="16.07" lengthAdjust="spacingAndGlyphs">9</text>
<text x="553.64" y="1375.79" font-size="27.83" fill="#231f20" stroke="#231f20" stroke-width="0.45" textLength="16.93" lengthAdjust="spacingAndGlyphs">6</text>
<text x="689.5" y="1375.79" font-size="27.83" fill="#231f20" stroke="#231f20" stroke-width="0.45" textLength="16.07" lengthAdjust="spacingAndGlyphs">9</text>
<text x="706.63" y="1375.79" font-size="27.83" fill="#231f20" stroke="#231f20" stroke-width="0.45" textLength="16.93" lengthAdjust="spacingAndGlyphs">6</text>
<text x="724.59" y="1375.79" font-size="27.83" fill="#231f20" stroke="#231f20" stroke-width="0.45" textLength="11.39" lengthAdjust="spacingAndGlyphs">-</text>
<text x="737.25" y="1375.79" font-size="27.83" fill="#231f20" stroke="#231f20" stroke-width="0.45" textLength="16.07" lengthAdjust="spacingAndGlyphs">9</text>
<text x="754.84" y="1375.79" font-size="27.83" fill="#231f20" stroke="#231f20" stroke-width="0.45" textLength="16.07" lengthAdjust="spacingAndGlyphs">9</text>
<text x="883.91" y="1375.79" font-size="27.83" fill="#231f20" stroke="#231f20" stroke-width="0.45" textLength="16.07" lengthAdjust="spacingAndGlyphs">9</text>
<text x="901.5" y="1375.79" font-size="27.83" fill="#231f20" stroke="#231f20" stroke-width="0.45" textLength="16.07" lengthAdjust="spacingAndGlyphs">9</text>
<text x="918.83" y="1375.79" font-size="27.83" fill="#231f20" stroke="#231f20" stroke-width="0.45" textLength="11.39" lengthAdjust="spacingAndGlyphs">-</text>
<path d="M932.53 1356.41H939.53V1376.01H936.53V1359.31H932.53Z" fill="#231f20"/>
<text x="941.8" y="1375.79" font-size="27.83" fill="#231f20" stroke="#231f20" stroke-width="0.45" textLength="18.09" lengthAdjust="spacingAndGlyphs">0</text>
<text x="960.86" y="1375.79" font-size="27.83" fill="#231f20" stroke="#231f20" stroke-width="0.45" textLength="15.69" lengthAdjust="spacingAndGlyphs">2</text>
<path d="M1079.61 1356.41H1086.61V1376.01H1083.61V1359.31H1079.61Z" fill="#231f20"/>
<text x="1088.88" y="1375.79" font-size="27.83" fill="#231f20" stroke="#231f20" stroke-width="0.45" textLength="18.09" lengthAdjust="spacingAndGlyphs">0</text>
<text x="1107.94" y="1375.79" font-size="27.83" fill="#231f20" stroke="#231f20" stroke-width="0.45" textLength="15.69" lengthAdjust="spacingAndGlyphs">2</text>
<text x="1124.64" y="1375.79" font-size="27.83" fill="#231f20" stroke="#231f20" stroke-width="0.45" textLength="11.39" lengthAdjust="spacingAndGlyphs">-</text>
<path d="M1138.34 1356.41H1145.34V1376.01H1142.34V1359.31H1138.34Z" fill="#231f20"/>
<text x="1147.61" y="1375.79" font-size="27.83" fill="#231f20" stroke="#231f20" stroke-width="0.45" textLength="18.09" lengthAdjust="spacingAndGlyphs">0</text>
<text x="1167.17" y="1375.79" font-size="27.83" fill="#231f20" stroke="#231f20" stroke-width="0.45" textLength="14.49" lengthAdjust="spacingAndGlyphs">5</text>
<path d="M1278.91 1356.41H1285.91V1376.01H1282.91V1359.31H1278.91Z" fill="#231f20"/>
<text x="1288.18" y="1375.79" font-size="27.83" fill="#231f20" stroke="#231f20" stroke-width="0.45" textLength="18.09" lengthAdjust="spacingAndGlyphs">0</text>
<text x="1307.75" y="1375.79" font-size="27.83" fill="#231f20" stroke="#231f20" stroke-width="0.45" textLength="14.49" lengthAdjust="spacingAndGlyphs">5</text>
<text x="1323.7" y="1375.79" font-size="27.83" fill="#231f20" stroke="#231f20" stroke-width="0.45" textLength="11.39" lengthAdjust="spacingAndGlyphs">-</text>
<path d="M1337.39 1356.41H1344.39V1376.01H1341.39V1359.31H1337.39Z" fill="#231f20"/>
<text x="1346.66" y="1375.79" font-size="27.83" fill="#231f20" stroke="#231f20" stroke-width="0.45" textLength="18.09" lengthAdjust="spacingAndGlyphs">0</text>
<text x="1366.24" y="1375.79" font-size="27.83" fill="#231f20" stroke="#231f20" stroke-width="0.45" textLength="16.3" lengthAdjust="spacingAndGlyphs">8</text>
<text x="87.62" y="1458.94" font-size="27.33" font-weight="bold" fill="#1e0b0d" stroke="#1e0b0d" stroke-width="0.7" stroke-linejoin="round" textLength="282.52" lengthAdjust="spacingAndGlyphs">OBIM STRUKA (cm)</text>
<text x="488.97" y="1459.06" font-size="27.83" fill="#231f20" stroke="#231f20" stroke-width="0.45" textLength="16.93" lengthAdjust="spacingAndGlyphs">6</text>
<text x="506.73" y="1459.06" font-size="27.83" fill="#231f20" stroke="#231f20" stroke-width="0.45" textLength="16.93" lengthAdjust="spacingAndGlyphs">6</text>
<text x="524.69" y="1459.06" font-size="27.83" fill="#231f20" stroke="#231f20" stroke-width="0.45" textLength="11.39" lengthAdjust="spacingAndGlyphs">-</text>
<text x="537.02" y="1459.06" font-size="27.83" fill="#231f20" stroke="#231f20" stroke-width="0.45" textLength="15.11" lengthAdjust="spacingAndGlyphs">7</text>
<text x="553.06" y="1459.06" font-size="27.83" fill="#231f20" stroke="#231f20" stroke-width="0.45" textLength="18.09" lengthAdjust="spacingAndGlyphs">0</text>
<text x="690.37" y="1459.06" font-size="27.83" fill="#231f20" stroke="#231f20" stroke-width="0.45" textLength="15.11" lengthAdjust="spacingAndGlyphs">7</text>
<text x="706.41" y="1459.06" font-size="27.83" fill="#231f20" stroke="#231f20" stroke-width="0.45" textLength="18.09" lengthAdjust="spacingAndGlyphs">0</text>
<text x="725.48" y="1459.06" font-size="27.83" fill="#231f20" stroke="#231f20" stroke-width="0.45" textLength="11.39" lengthAdjust="spacingAndGlyphs">-</text>
<text x="737.81" y="1459.06" font-size="27.83" fill="#231f20" stroke="#231f20" stroke-width="0.45" textLength="15.11" lengthAdjust="spacingAndGlyphs">7</text>
<text x="753.84" y="1459.06" font-size="27.83" fill="#231f20" stroke="#231f20" stroke-width="0.45" textLength="15.62" lengthAdjust="spacingAndGlyphs">4</text>
<text x="891.31" y="1459.06" font-size="27.83" fill="#231f20" stroke="#231f20" stroke-width="0.45" textLength="15.11" lengthAdjust="spacingAndGlyphs">7</text>
<text x="907.35" y="1459.06" font-size="27.83" fill="#231f20" stroke="#231f20" stroke-width="0.45" textLength="15.62" lengthAdjust="spacingAndGlyphs">4</text>
<text x="923.75" y="1459.06" font-size="27.83" fill="#231f20" stroke="#231f20" stroke-width="0.45" textLength="11.39" lengthAdjust="spacingAndGlyphs">-</text>
<text x="936.08" y="1459.06" font-size="27.83" fill="#231f20" stroke="#231f20" stroke-width="0.45" textLength="15.11" lengthAdjust="spacingAndGlyphs">7</text>
<text x="952.67" y="1459.06" font-size="27.83" fill="#231f20" stroke="#231f20" stroke-width="0.45" textLength="16.3" lengthAdjust="spacingAndGlyphs">8</text>
<text x="1089.8" y="1459.06" font-size="27.83" fill="#231f20" stroke="#231f20" stroke-width="0.45" textLength="15.11" lengthAdjust="spacingAndGlyphs">7</text>
<text x="1106.39" y="1459.06" font-size="27.83" fill="#231f20" stroke="#231f20" stroke-width="0.45" textLength="16.3" lengthAdjust="spacingAndGlyphs">8</text>
<text x="1124.21" y="1459.06" font-size="27.83" fill="#231f20" stroke="#231f20" stroke-width="0.45" textLength="11.39" lengthAdjust="spacingAndGlyphs">-</text>
<text x="1137.12" y="1459.06" font-size="27.83" fill="#231f20" stroke="#231f20" stroke-width="0.45" textLength="16.3" lengthAdjust="spacingAndGlyphs">8</text>
<text x="1154.94" y="1459.06" font-size="27.83" fill="#231f20" stroke="#231f20" stroke-width="0.45" textLength="15.69" lengthAdjust="spacingAndGlyphs">2</text>
<text x="1289.24" y="1459.06" font-size="27.83" fill="#231f20" stroke="#231f20" stroke-width="0.45" textLength="16.3" lengthAdjust="spacingAndGlyphs">8</text>
<text x="1307.06" y="1459.06" font-size="27.83" fill="#231f20" stroke="#231f20" stroke-width="0.45" textLength="15.69" lengthAdjust="spacingAndGlyphs">2</text>
<text x="1323.76" y="1459.06" font-size="27.83" fill="#231f20" stroke="#231f20" stroke-width="0.45" textLength="11.39" lengthAdjust="spacingAndGlyphs">-</text>
<text x="1336.67" y="1459.06" font-size="27.83" fill="#231f20" stroke="#231f20" stroke-width="0.45" textLength="16.3" lengthAdjust="spacingAndGlyphs">8</text>
<text x="1354.29" y="1459.06" font-size="27.83" fill="#231f20" stroke="#231f20" stroke-width="0.45" textLength="16.93" lengthAdjust="spacingAndGlyphs">6</text>
<text x="52.31" y="1542.21" font-size="27.33" font-weight="bold" fill="#1e0b0d" stroke="#1e0b0d" stroke-width="0.7" stroke-linejoin="round" textLength="352.86" lengthAdjust="spacingAndGlyphs">DUŽINA NOGAVICA(cm)</text>
<text x="489.5" y="1542.34" font-size="27.83" fill="#231f20" stroke="#231f20" stroke-width="0.45" textLength="16.07" lengthAdjust="spacingAndGlyphs">9</text>
<text x="506.63" y="1542.34" font-size="27.83" fill="#231f20" stroke="#231f20" stroke-width="0.45" textLength="16.93" lengthAdjust="spacingAndGlyphs">6</text>
<text x="524.59" y="1542.34" font-size="27.83" fill="#231f20" stroke="#231f20" stroke-width="0.45" textLength="11.39" lengthAdjust="spacingAndGlyphs">-</text>
<text x="537.25" y="1542.34" font-size="27.83" fill="#231f20" stroke="#231f20" stroke-width="0.45" textLength="16.07" lengthAdjust="spacingAndGlyphs">9</text>
<text x="554.84" y="1542.34" font-size="27.83" fill="#231f20" stroke="#231f20" stroke-width="0.45" textLength="16.07" lengthAdjust="spacingAndGlyphs">9</text>
<text x="683.91" y="1542.34" font-size="27.83" fill="#231f20" stroke="#231f20" stroke-width="0.45" textLength="16.07" lengthAdjust="spacingAndGlyphs">9</text>
<text x="701.5" y="1542.34" font-size="27.83" fill="#231f20" stroke="#231f20" stroke-width="0.45" textLength="16.07" lengthAdjust="spacingAndGlyphs">9</text>
<text x="718.83" y="1542.34" font-size="27.83" fill="#231f20" stroke="#231f20" stroke-width="0.45" textLength="11.39" lengthAdjust="spacingAndGlyphs">-</text>
<path d="M732.53 1522.96H739.53V1542.56H736.53V1525.86H732.53Z" fill="#231f20"/>
<text x="741.8" y="1542.34" font-size="27.83" fill="#231f20" stroke="#231f20" stroke-width="0.45" textLength="18.09" lengthAdjust="spacingAndGlyphs">0</text>
<text x="760.86" y="1542.34" font-size="27.83" fill="#231f20" stroke="#231f20" stroke-width="0.45" textLength="15.69" lengthAdjust="spacingAndGlyphs">2</text>
<path d="M879.61 1522.96H886.61V1542.56H883.61V1525.86H879.61Z" fill="#231f20"/>
<text x="888.88" y="1542.34" font-size="27.83" fill="#231f20" stroke="#231f20" stroke-width="0.45" textLength="18.09" lengthAdjust="spacingAndGlyphs">0</text>
<text x="907.94" y="1542.34" font-size="27.83" fill="#231f20" stroke="#231f20" stroke-width="0.45" textLength="15.69" lengthAdjust="spacingAndGlyphs">2</text>
<text x="924.64" y="1542.34" font-size="27.83" fill="#231f20" stroke="#231f20" stroke-width="0.45" textLength="11.39" lengthAdjust="spacingAndGlyphs">-</text>
<path d="M938.34 1522.96H945.34V1542.56H942.34V1525.86H938.34Z" fill="#231f20"/>
<text x="947.61" y="1542.34" font-size="27.83" fill="#231f20" stroke="#231f20" stroke-width="0.45" textLength="18.09" lengthAdjust="spacingAndGlyphs">0</text>
<text x="967.17" y="1542.34" font-size="27.83" fill="#231f20" stroke="#231f20" stroke-width="0.45" textLength="14.49" lengthAdjust="spacingAndGlyphs">5</text>
<path d="M1078.91 1522.96H1085.91V1542.56H1082.91V1525.86H1078.91Z" fill="#231f20"/>
<text x="1088.18" y="1542.34" font-size="27.83" fill="#231f20" stroke="#231f20" stroke-width="0.45" textLength="18.09" lengthAdjust="spacingAndGlyphs">0</text>
<text x="1107.75" y="1542.34" font-size="27.83" fill="#231f20" stroke="#231f20" stroke-width="0.45" textLength="14.49" lengthAdjust="spacingAndGlyphs">5</text>
<text x="1123.7" y="1542.34" font-size="27.83" fill="#231f20" stroke="#231f20" stroke-width="0.45" textLength="11.39" lengthAdjust="spacingAndGlyphs">-</text>
<path d="M1137.39 1522.96H1144.39V1542.56H1141.39V1525.86H1137.39Z" fill="#231f20"/>
<text x="1146.66" y="1542.34" font-size="27.83" fill="#231f20" stroke="#231f20" stroke-width="0.45" textLength="18.09" lengthAdjust="spacingAndGlyphs">0</text>
<text x="1166.24" y="1542.34" font-size="27.83" fill="#231f20" stroke="#231f20" stroke-width="0.45" textLength="16.3" lengthAdjust="spacingAndGlyphs">8</text>
<path d="M1285.92 1522.96H1292.92V1542.56H1289.92V1525.86H1285.92Z" fill="#231f20"/>
<text x="1295.19" y="1542.34" font-size="27.83" fill="#231f20" stroke="#231f20" stroke-width="0.45" textLength="18.09" lengthAdjust="spacingAndGlyphs">0</text>
<text x="1314.77" y="1542.34" font-size="27.83" fill="#231f20" stroke="#231f20" stroke-width="0.45" textLength="16.3" lengthAdjust="spacingAndGlyphs">8</text>
<text x="1332.59" y="1542.34" font-size="27.83" fill="#231f20" stroke="#231f20" stroke-width="0.45" textLength="11.39" lengthAdjust="spacingAndGlyphs">-</text>
<path d="M1346.28 1522.96H1353.28V1542.56H1350.28V1525.86H1346.28Z" fill="#231f20"/>
<path d="M1356.88 1522.96H1363.88V1542.56H1360.88V1525.86H1356.88Z" fill="#231f20"/>
<path d="M1367.48 1522.96H1374.48V1542.56H1371.48V1525.86H1367.48Z" fill="#231f20"/>
<rect x="430.2" y="1235.15" width="1002.25" height="4.5" fill="#fff"/>
<rect x="430.2" y="1318.43" width="1002.25" height="4.5" fill="#fff"/>
<rect x="430.2" y="1401.7" width="1002.25" height="4.5" fill="#fff"/>
<rect x="430.2" y="1484.98" width="1002.25" height="4.5" fill="#fff"/>
<rect x="26.45" y="1568.25" width="1406" height="4.5" fill="#fff"/>
<rect x="430.2" y="1235.15" width="2.25" height="337.6" fill="#fff"/>
<rect x="627.95" y="1235.15" width="4.5" height="337.6" fill="#fff"/>
<rect x="827.95" y="1235.15" width="4.5" height="337.6" fill="#fff"/>
<rect x="1027.95" y="1235.15" width="4.5" height="337.6" fill="#fff"/>
<rect x="1227.95" y="1235.15" width="4.5" height="337.6" fill="#fff"/>
<rect x="1427.95" y="1235.15" width="2.25" height="337.6" fill="#fff"/>
<rect x="26.45" y="1236.15" width="402.5" height="2.5" fill="#1a0709"/>
<rect x="428.95" y="1236.15" width="1002.5" height="2.5" fill="#151314"/>
<rect x="26.45" y="1319.43" width="402.5" height="2.5" fill="#1a0709"/>
<rect x="428.95" y="1319.43" width="1002.5" height="2.5" fill="#151314"/>
<rect x="26.45" y="1402.7" width="402.5" height="2.5" fill="#1a0709"/>
<rect x="428.95" y="1402.7" width="1002.5" height="2.5" fill="#151314"/>
<rect x="26.45" y="1485.98" width="402.5" height="2.5" fill="#1a0709"/>
<rect x="428.95" y="1485.98" width="1002.5" height="2.5" fill="#151314"/>
<rect x="26.45" y="1569.25" width="402.5" height="2.5" fill="#1a0709"/>
<rect x="428.95" y="1569.25" width="1002.5" height="2.5" fill="#151314"/>
<rect x="26.45" y="1236.15" width="2.5" height="335.6" fill="#1a0709"/>
<rect x="428.95" y="1236.15" width="2.5" height="335.6" fill="#1a0709"/>
<rect x="628.95" y="1236.15" width="2.5" height="335.6" fill="#151314"/>
<rect x="828.95" y="1236.15" width="2.5" height="335.6" fill="#151314"/>
<rect x="1028.95" y="1236.15" width="2.5" height="335.6" fill="#151314"/>
<rect x="1228.95" y="1236.15" width="2.5" height="335.6" fill="#151314"/>
<rect x="1428.95" y="1236.15" width="2.5" height="335.6" fill="#151314"/>
<rect x="26.5" y="1633.5" width="1397.2" height="275.5" fill="#eeeff0"/>
<rect x="1423.7" y="1633.5" width="6.5" height="274.8" fill="#fff"/>
<rect x="27.7" y="1633.5" width="402.5" height="274.8" fill="#f6c5c8"/>
<text x="159.65" y="1692.65" font-size="27.33" font-weight="bold" fill="#1e0b0d" stroke="#1e0b0d" stroke-width="0.7" stroke-linejoin="round" textLength="139.29" lengthAdjust="spacingAndGlyphs">VELIČINA</text>
<text x="537.83" y="1692.65" font-size="27.47" font-weight="bold" fill="#231f20" stroke="#231f20" stroke-width="0.7" stroke-linejoin="round" textLength="34.99" lengthAdjust="spacingAndGlyphs">38</text>
<text x="786.53" y="1692.65" font-size="27.47" font-weight="bold" fill="#231f20" stroke="#231f20" stroke-width="0.7" stroke-linejoin="round" textLength="38.23" lengthAdjust="spacingAndGlyphs">40</text>
<text x="1037.3" y="1692.65" font-size="27.47" font-weight="bold" fill="#231f20" stroke="#231f20" stroke-width="0.7" stroke-linejoin="round" textLength="36.62" lengthAdjust="spacingAndGlyphs">42</text>
<text x="1286.29" y="1692.65" font-size="27.47" font-weight="bold" fill="#231f20" stroke="#231f20" stroke-width="0.7" stroke-linejoin="round" textLength="37.49" lengthAdjust="spacingAndGlyphs">44</text>
<text x="86.61" y="1784.25" font-size="27.33" font-weight="bold" fill="#1e0b0d" stroke="#1e0b0d" stroke-width="0.7" stroke-linejoin="round" textLength="284.55" lengthAdjust="spacingAndGlyphs">OBIM BOKOVA(cm)</text>
<text x="514.81" y="1784.38" font-size="27.83" fill="#231f20" stroke="#231f20" stroke-width="0.45" textLength="16.07" lengthAdjust="spacingAndGlyphs">9</text>
<text x="532.14" y="1784.38" font-size="27.83" fill="#231f20" stroke="#231f20" stroke-width="0.45" textLength="15.69" lengthAdjust="spacingAndGlyphs">2</text>
<text x="548.84" y="1784.38" font-size="27.83" fill="#231f20" stroke="#231f20" stroke-width="0.45" textLength="11.39" lengthAdjust="spacingAndGlyphs">-</text>
<text x="561.5" y="1784.38" font-size="27.83" fill="#231f20" stroke="#231f20" stroke-width="0.45" textLength="16.07" lengthAdjust="spacingAndGlyphs">9</text>
<text x="578.64" y="1784.38" font-size="27.83" fill="#231f20" stroke="#231f20" stroke-width="0.45" textLength="16.93" lengthAdjust="spacingAndGlyphs">6</text>
<text x="764.5" y="1784.38" font-size="27.83" fill="#231f20" stroke="#231f20" stroke-width="0.45" textLength="16.07" lengthAdjust="spacingAndGlyphs">9</text>
<text x="781.63" y="1784.38" font-size="27.83" fill="#231f20" stroke="#231f20" stroke-width="0.45" textLength="16.93" lengthAdjust="spacingAndGlyphs">6</text>
<text x="799.59" y="1784.38" font-size="27.83" fill="#231f20" stroke="#231f20" stroke-width="0.45" textLength="11.39" lengthAdjust="spacingAndGlyphs">-</text>
<text x="812.25" y="1784.38" font-size="27.83" fill="#231f20" stroke="#231f20" stroke-width="0.45" textLength="16.07" lengthAdjust="spacingAndGlyphs">9</text>
<text x="829.84" y="1784.38" font-size="27.83" fill="#231f20" stroke="#231f20" stroke-width="0.45" textLength="16.07" lengthAdjust="spacingAndGlyphs">9</text>
<text x="1008.91" y="1784.38" font-size="27.83" fill="#231f20" stroke="#231f20" stroke-width="0.45" textLength="16.07" lengthAdjust="spacingAndGlyphs">9</text>
<text x="1026.5" y="1784.38" font-size="27.83" fill="#231f20" stroke="#231f20" stroke-width="0.45" textLength="16.07" lengthAdjust="spacingAndGlyphs">9</text>
<text x="1043.83" y="1784.38" font-size="27.83" fill="#231f20" stroke="#231f20" stroke-width="0.45" textLength="11.39" lengthAdjust="spacingAndGlyphs">-</text>
<path d="M1057.53 1765H1064.53V1784.6H1061.53V1767.9H1057.53Z" fill="#231f20"/>
<text x="1066.8" y="1784.38" font-size="27.83" fill="#231f20" stroke="#231f20" stroke-width="0.45" textLength="18.09" lengthAdjust="spacingAndGlyphs">0</text>
<text x="1085.86" y="1784.38" font-size="27.83" fill="#231f20" stroke="#231f20" stroke-width="0.45" textLength="15.69" lengthAdjust="spacingAndGlyphs">2</text>
<path d="M1254.61 1765H1261.61V1784.6H1258.61V1767.9H1254.61Z" fill="#231f20"/>
<text x="1263.88" y="1784.38" font-size="27.83" fill="#231f20" stroke="#231f20" stroke-width="0.45" textLength="18.09" lengthAdjust="spacingAndGlyphs">0</text>
<text x="1282.94" y="1784.38" font-size="27.83" fill="#231f20" stroke="#231f20" stroke-width="0.45" textLength="15.69" lengthAdjust="spacingAndGlyphs">2</text>
<text x="1299.64" y="1784.38" font-size="27.83" fill="#231f20" stroke="#231f20" stroke-width="0.45" textLength="11.39" lengthAdjust="spacingAndGlyphs">-</text>
<path d="M1313.34 1765H1320.34V1784.6H1317.34V1767.9H1313.34Z" fill="#231f20"/>
<text x="1322.61" y="1784.38" font-size="27.83" fill="#231f20" stroke="#231f20" stroke-width="0.45" textLength="18.09" lengthAdjust="spacingAndGlyphs">0</text>
<text x="1342.17" y="1784.38" font-size="27.83" fill="#231f20" stroke="#231f20" stroke-width="0.45" textLength="14.49" lengthAdjust="spacingAndGlyphs">5</text>
<text x="87.62" y="1875.85" font-size="27.33" font-weight="bold" fill="#1e0b0d" stroke="#1e0b0d" stroke-width="0.7" stroke-linejoin="round" textLength="282.52" lengthAdjust="spacingAndGlyphs">OBIM STRUKA (cm)</text>
<text x="513.97" y="1875.98" font-size="27.83" fill="#231f20" stroke="#231f20" stroke-width="0.45" textLength="16.93" lengthAdjust="spacingAndGlyphs">6</text>
<text x="531.73" y="1875.98" font-size="27.83" fill="#231f20" stroke="#231f20" stroke-width="0.45" textLength="16.93" lengthAdjust="spacingAndGlyphs">6</text>
<text x="549.69" y="1875.98" font-size="27.83" fill="#231f20" stroke="#231f20" stroke-width="0.45" textLength="11.39" lengthAdjust="spacingAndGlyphs">-</text>
<text x="562.02" y="1875.98" font-size="27.83" fill="#231f20" stroke="#231f20" stroke-width="0.45" textLength="15.11" lengthAdjust="spacingAndGlyphs">7</text>
<text x="578.06" y="1875.98" font-size="27.83" fill="#231f20" stroke="#231f20" stroke-width="0.45" textLength="18.09" lengthAdjust="spacingAndGlyphs">0</text>
<text x="765.37" y="1875.98" font-size="27.83" fill="#231f20" stroke="#231f20" stroke-width="0.45" textLength="15.11" lengthAdjust="spacingAndGlyphs">7</text>
<text x="781.41" y="1875.98" font-size="27.83" fill="#231f20" stroke="#231f20" stroke-width="0.45" textLength="18.09" lengthAdjust="spacingAndGlyphs">0</text>
<text x="800.48" y="1875.98" font-size="27.83" fill="#231f20" stroke="#231f20" stroke-width="0.45" textLength="11.39" lengthAdjust="spacingAndGlyphs">-</text>
<text x="812.81" y="1875.98" font-size="27.83" fill="#231f20" stroke="#231f20" stroke-width="0.45" textLength="15.11" lengthAdjust="spacingAndGlyphs">7</text>
<text x="828.84" y="1875.98" font-size="27.83" fill="#231f20" stroke="#231f20" stroke-width="0.45" textLength="15.62" lengthAdjust="spacingAndGlyphs">4</text>
<text x="1016.31" y="1875.98" font-size="27.83" fill="#231f20" stroke="#231f20" stroke-width="0.45" textLength="15.11" lengthAdjust="spacingAndGlyphs">7</text>
<text x="1032.35" y="1875.98" font-size="27.83" fill="#231f20" stroke="#231f20" stroke-width="0.45" textLength="15.62" lengthAdjust="spacingAndGlyphs">4</text>
<text x="1048.75" y="1875.98" font-size="27.83" fill="#231f20" stroke="#231f20" stroke-width="0.45" textLength="11.39" lengthAdjust="spacingAndGlyphs">-</text>
<text x="1061.08" y="1875.98" font-size="27.83" fill="#231f20" stroke="#231f20" stroke-width="0.45" textLength="15.11" lengthAdjust="spacingAndGlyphs">7</text>
<text x="1077.67" y="1875.98" font-size="27.83" fill="#231f20" stroke="#231f20" stroke-width="0.45" textLength="16.3" lengthAdjust="spacingAndGlyphs">8</text>
<text x="1264.8" y="1875.98" font-size="27.83" fill="#231f20" stroke="#231f20" stroke-width="0.45" textLength="15.11" lengthAdjust="spacingAndGlyphs">7</text>
<text x="1281.39" y="1875.98" font-size="27.83" fill="#231f20" stroke="#231f20" stroke-width="0.45" textLength="16.3" lengthAdjust="spacingAndGlyphs">8</text>
<text x="1299.21" y="1875.98" font-size="27.83" fill="#231f20" stroke="#231f20" stroke-width="0.45" textLength="11.39" lengthAdjust="spacingAndGlyphs">-</text>
<text x="1312.12" y="1875.98" font-size="27.83" fill="#231f20" stroke="#231f20" stroke-width="0.45" textLength="16.3" lengthAdjust="spacingAndGlyphs">8</text>
<text x="1329.94" y="1875.98" font-size="27.83" fill="#231f20" stroke="#231f20" stroke-width="0.45" textLength="15.69" lengthAdjust="spacingAndGlyphs">2</text>
<rect x="430.2" y="1631.25" width="1002.25" height="4.5" fill="#fff"/>
<rect x="430.2" y="1722.85" width="1002.25" height="4.5" fill="#fff"/>
<rect x="430.2" y="1814.45" width="1002.25" height="4.5" fill="#fff"/>
<rect x="26.45" y="1906.05" width="1406" height="4.5" fill="#fff"/>
<rect x="430.2" y="1631.25" width="2.25" height="279.3" fill="#fff"/>
<rect x="677.95" y="1631.25" width="4.5" height="279.3" fill="#fff"/>
<rect x="927.95" y="1631.25" width="4.5" height="279.3" fill="#fff"/>
<rect x="1177.95" y="1631.25" width="4.5" height="279.3" fill="#fff"/>
<rect x="1427.95" y="1631.25" width="2.25" height="279.3" fill="#fff"/>
<rect x="26.45" y="1632.25" width="402.5" height="2.5" fill="#1a0709"/>
<rect x="428.95" y="1632.25" width="1002.5" height="2.5" fill="#151314"/>
<rect x="26.45" y="1723.85" width="402.5" height="2.5" fill="#1a0709"/>
<rect x="428.95" y="1723.85" width="1002.5" height="2.5" fill="#151314"/>
<rect x="26.45" y="1815.45" width="402.5" height="2.5" fill="#1a0709"/>
<rect x="428.95" y="1815.45" width="1002.5" height="2.5" fill="#151314"/>
<rect x="26.45" y="1907.05" width="402.5" height="2.5" fill="#1a0709"/>
<rect x="428.95" y="1907.05" width="1002.5" height="2.5" fill="#151314"/>
<rect x="26.45" y="1632.25" width="2.5" height="277.3" fill="#1a0709"/>
<rect x="428.95" y="1632.25" width="2.5" height="277.3" fill="#1a0709"/>
<rect x="678.95" y="1632.25" width="2.5" height="277.3" fill="#151314"/>
<rect x="928.95" y="1632.25" width="2.5" height="277.3" fill="#151314"/>
<rect x="1178.95" y="1632.25" width="2.5" height="277.3" fill="#151314"/>
<rect x="1428.95" y="1632.25" width="2.5" height="277.3" fill="#151314"/>
</svg>
</body></html>
